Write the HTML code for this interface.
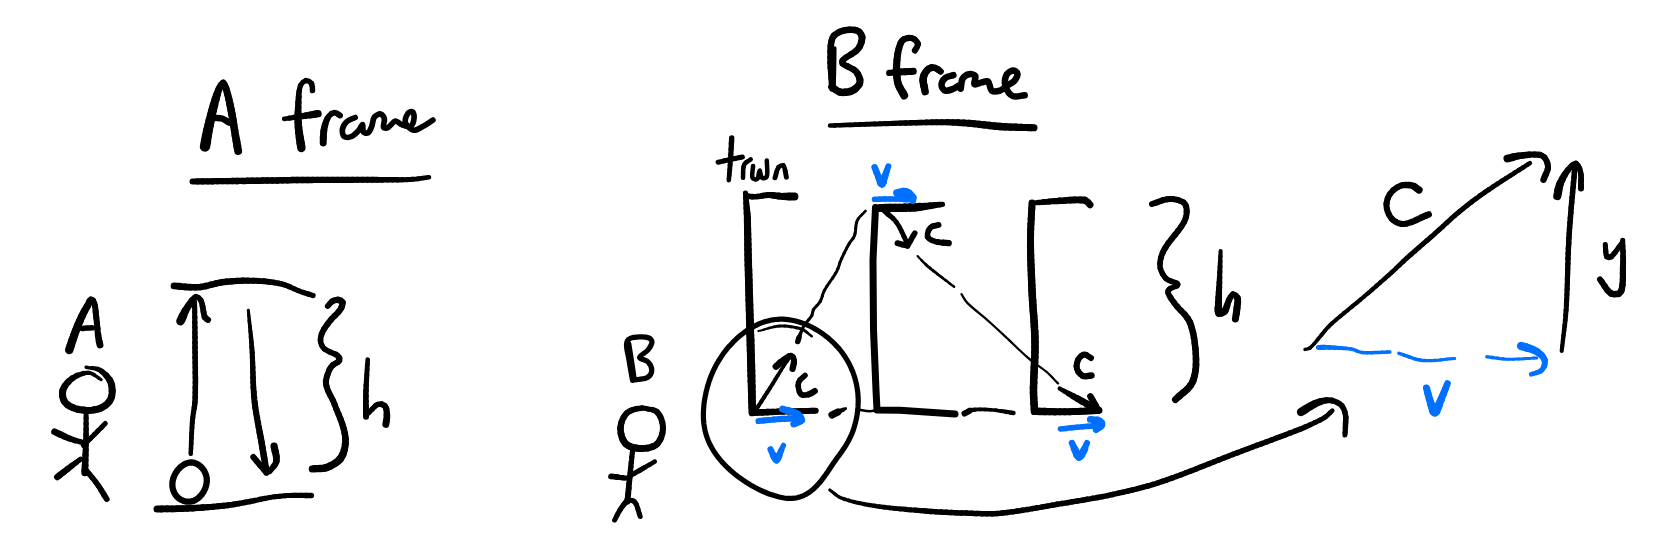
<!DOCTYPE html>
<html><head><meta charset="utf-8"><title>A frame / B frame</title>
<style>
html,body{margin:0;padding:0;background:#fff;width:1661px;height:547px;overflow:hidden;font-family:"Liberation Sans",sans-serif;}
svg{display:block;}
</style></head><body>
<svg width="1661" height="547" viewBox="0 0 1661 547">
<rect width="1661" height="547" fill="#fff"/>
<g fill="none" stroke-linecap="round" stroke-linejoin="round">
<g stroke="#000">
<path d="M205 146.5L205.5 143.9L206 141.2" stroke-width="10.4"/>
<path d="M206 141.2L206.4 138.6L206.9 135.9" stroke-width="10.1"/>
<path d="M206.9 135.9L207.4 133.3L207.9 130.6" stroke-width="9.8"/>
<path d="M207.9 130.6L208.5 128L209.1 125.4" stroke-width="9.5"/>
<path d="M209.1 125.4L209.6 122.9L210.2 120.3" stroke-width="9.3"/>
<path d="M210.2 120.3L210.8 117.7L211.4 115.2" stroke-width="9.1"/>
<path d="M211.4 115.2L212 112.6L212.7 110.1" stroke-width="8.8"/>
<path d="M212.7 110.1L213.3 107.5L214 105" stroke-width="8.6"/>
<path d="M214 105L214.7 102.3L215.5 99.6" stroke-width="8.2"/>
<path d="M215.5 99.6L216.2 96.9L217.1 94.2" stroke-width="7.8"/>
<path d="M217.1 94.2L218 91.6L219 89" stroke-width="7.2"/>
<path d="M219 89L221 85L223.2 83" stroke-width="6.8"/>
<path d="M223.2 83L224.7 84.9L226 88.4" stroke-width="6.7"/>
<path d="M226 88.4L227 92L227.7 94.5" stroke-width="7"/>
<path d="M227.7 94.5L228.3 96.9L228.9 99.4" stroke-width="7.1"/>
<path d="M228.9 99.4L229.5 101.9L230 104.5" stroke-width="7.2"/>
<path d="M230 104.5L230.5 107L231 109.5" stroke-width="7.4"/>
<path d="M231 109.5L231.5 112L232 114.6" stroke-width="7.5"/>
<path d="M232 114.6L232.5 117.2L232.9 119.9" stroke-width="7.5"/>
<path d="M232.9 119.9L233.3 122.5L233.7 125.1" stroke-width="7.5"/>
<path d="M233.7 125.1L234.1 127.7L234.6 130.4" stroke-width="7.5"/>
<path d="M234.6 130.4L235 133L235.4 135.6" stroke-width="7.5"/>
<path d="M235.4 135.6L235.9 138.1L236.4 140.7" stroke-width="7.6"/>
<path d="M236.4 140.7L236.8 143.3L237.3 145.9" stroke-width="7.8"/>
<path d="M237.3 145.9L237.7 148.4L238.2 151" stroke-width="7.9"/>
<path d="M214.9 117.8C217.3 118 219.8 117.8 222 118.5C224.5 119.3 226.7 121.2 229 122.5" stroke-width="6.5"/>
<path d="M312.5 90.5L312.3 86.8L311.5 83.5" stroke-width="5.5"/>
<path d="M311.5 83.5L309 81.3L306 80.5" stroke-width="5.2"/>
<path d="M306 80.5L302.8 82.3L300.5 85.5" stroke-width="5"/>
<path d="M300.5 85.5L299.7 88.2L299.2 91.1" stroke-width="5.2"/>
<path d="M299.2 91.1L298.8 94L298.7 97" stroke-width="5.6"/>
<path d="M298.7 97L298.5 100L298.4 102.5" stroke-width="6"/>
<path d="M298.4 102.5L298.3 105L298.2 107.5" stroke-width="6.3"/>
<path d="M298.2 107.5L298.1 110L298 112.5" stroke-width="6.6"/>
<path d="M298 112.5L298 115L298 117.5" stroke-width="6.9"/>
<path d="M298 117.5L298.1 120L298.2 122.5" stroke-width="7.2"/>
<path d="M298.2 122.5L298.3 125L298.5 127.6" stroke-width="7.5"/>
<path d="M298.5 127.6L298.8 130.1L299.1 132.7" stroke-width="7.7"/>
<path d="M299.1 132.7L299.4 135.2L299.8 137.8" stroke-width="7.9"/>
<path d="M299.8 137.8L300.2 140.3L300.6 142.9" stroke-width="8.2"/>
<path d="M300.6 142.9L301 145.4L301.4 148" stroke-width="8.4"/>
<path d="M284.3 118.9L286.9 118.5L289.5 118.1" stroke-width="4.8"/>
<path d="M289.5 118.1L292.2 117.7L294.8 117.3" stroke-width="5.2"/>
<path d="M294.8 117.3L297.4 116.9L300 116.5" stroke-width="5.8"/>
<path d="M300 116.5L302.6 116.1L305.1 115.7" stroke-width="6.2"/>
<path d="M305.1 115.7L307.7 115.3L310.3 114.9" stroke-width="6.6"/>
<path d="M310.3 114.9L312.9 114.5L315.4 114.1" stroke-width="7.1"/>
<path d="M315.4 114.1L318 113.7" stroke-width="7.4"/>
<path d="M323.2 142.9L323.3 139.9L323.3 137" stroke-width="7"/>
<path d="M323.3 137L323.5 134L323.8 131" stroke-width="6.9"/>
<path d="M323.8 131L324.3 127.9L325 125" stroke-width="6.7"/>
<path d="M325 125L326 121.8L327.3 118.8" stroke-width="6.2"/>
<path d="M327.3 118.8L329 116L331.5 113.7" stroke-width="5.6"/>
<path d="M331.5 113.7L334.5 112.5L337.2 113.6" stroke-width="5.6"/>
<path d="M337.2 113.6L340 115.5" stroke-width="5.9"/>
<path d="M355.2 117.5C352.5 118.8 349.2 119.5 347 121.5C344.9 123.4 342.9 126.5 342.4 129.2C342 131.5 342.7 135.3 344.2 136.5C345.7 137.7 349.4 137.4 351.5 136.5C354.3 135.3 356.7 132.6 358.9 130.2C360.4 128.6 361.8 124.2 362.5 124.5C363.3 124.8 362.3 130.3 363.4 132C364.1 133.1 366.9 133.6 368 132.9C369.7 131.8 370.8 128.8 371.7 126.5C372.9 123.5 372.6 119.4 374.4 117C375.7 115.3 379 113.6 380.8 114C382.4 114.3 384 117.1 384.4 119C384.9 121.6 382.7 125.6 383.5 127.4C383.9 128.4 386.8 128.1 388.1 127.4C390.8 126 392.8 121.5 395.4 121C397.4 120.6 399.5 123.8 401.8 124.7C404.4 125.7 407.8 127.3 410 126.5C411.8 125.9 413.3 122.7 413.7 120.5C414.2 117.9 414 113.6 412.8 112C412.1 111.1 409 111.9 408.2 113C406.5 115.5 404.6 120.1 405.5 122.8C406.5 125.8 410.6 129.5 413.7 130.2C416.4 130.8 419.9 128 422.8 126.5C426.3 124.7 429.5 122.2 432.9 120.1" stroke-width="5.7"/>
<path d="M192.5 181.5L195 181.5L197.5 181.4" stroke-width="6"/>
<path d="M197.5 181.4L200 181.4L202.5 181.4" stroke-width="6.1"/>
<path d="M202.5 181.4L205 181.4L207.5 181.3" stroke-width="6.1"/>
<path d="M207.5 181.3L210 181.3L212.5 181.3" stroke-width="6.2"/>
<path d="M212.5 181.3L215 181.2L217.5 181.2" stroke-width="6.2"/>
<path d="M217.5 181.2L220 181.2L222.5 181.1" stroke-width="6.2"/>
<path d="M222.5 181.1L225 181.1L227.5 181.1" stroke-width="6.3"/>
<path d="M227.5 181.1L230 181.1L232.5 181" stroke-width="6.3"/>
<path d="M232.5 181L235 181L237.5 181" stroke-width="6.4"/>
<path d="M237.5 181L240 180.9L242.5 180.9" stroke-width="6.4"/>
<path d="M242.5 180.9L245 180.9L247.5 180.8" stroke-width="6.5"/>
<path d="M247.5 180.8L250 180.8L252.5 180.8" stroke-width="6.5"/>
<path d="M252.5 180.8L255 180.7L257.5 180.7" stroke-width="6.5"/>
<path d="M257.5 180.7L260 180.7L262.5 180.6" stroke-width="6.5"/>
<path d="M262.5 180.6L265 180.6L267.5 180.5" stroke-width="6.5"/>
<path d="M267.5 180.5L270 180.5L272.5 180.4" stroke-width="6.5"/>
<path d="M272.5 180.4L275 180.4L277.5 180.4" stroke-width="6.5"/>
<path d="M277.5 180.4L280 180.3L282.5 180.3" stroke-width="6.5"/>
<path d="M282.5 180.3L285 180.2L287.5 180.2" stroke-width="6.5"/>
<path d="M287.5 180.2L290 180.2L292.5 180.1" stroke-width="6.5"/>
<path d="M292.5 180.1L295 180.1L297.5 180.1" stroke-width="6.5"/>
<path d="M297.5 180.1L300 180L302.5 180" stroke-width="6.5"/>
<path d="M302.5 180L305 180L307.5 180" stroke-width="6.5"/>
<path d="M307.5 180L310 180L312.5 179.9" stroke-width="6.5"/>
<path d="M312.5 179.9L315 179.9L317.5 179.9" stroke-width="6.4"/>
<path d="M317.5 179.9L320 179.9L322.5 179.9" stroke-width="6.4"/>
<path d="M322.5 179.9L325 179.9L327.5 179.9" stroke-width="6.3"/>
<path d="M327.5 179.9L330 179.9L332.5 179.9" stroke-width="6.3"/>
<path d="M332.5 179.9L335 179.9L337.5 179.9" stroke-width="6.3"/>
<path d="M337.5 179.9L340 179.9L342.5 179.9" stroke-width="6.2"/>
<path d="M342.5 179.9L345 179.9L347.5 179.9" stroke-width="6.2"/>
<path d="M347.5 179.9L350 179.9L352.5 179.9" stroke-width="6.2"/>
<path d="M352.5 179.9L355 179.8L357.5 179.8" stroke-width="6.1"/>
<path d="M357.5 179.8L360 179.8L362.5 179.8" stroke-width="6.1"/>
<path d="M362.5 179.8L365 179.8L367.5 179.8" stroke-width="6"/>
<path d="M367.5 179.8L370 179.8L372.5 179.8" stroke-width="6"/>
<path d="M372.5 179.8L375 179.8L377.5 179.8" stroke-width="5.9"/>
<path d="M377.5 179.8L380 179.8L382.5 179.8" stroke-width="5.8"/>
<path d="M382.5 179.8L385 179.8L387.5 179.8" stroke-width="5.6"/>
<path d="M387.5 179.8L390 179.8L392.5 179.8" stroke-width="5.5"/>
<path d="M392.5 179.8L395 179.8L397.5 179.8" stroke-width="5.4"/>
<path d="M397.5 179.8L400 179.8L402.5 179.7" stroke-width="5.2"/>
<path d="M402.5 179.7L405 179.7L407.5 179.6" stroke-width="5.1"/>
<path d="M407.5 179.6L410 179.5L412.7 179.3" stroke-width="5"/>
<path d="M412.7 179.3L415.4 179.1L418.2 178.8" stroke-width="4.9"/>
<path d="M418.2 178.8L420.9 178.4L423.6 178" stroke-width="4.7"/>
<path d="M423.6 178L426.3 177.6L429 177.3" stroke-width="4.6"/>
<path d="M69.2 350.1L70 347.7L70.8 345.2" stroke-width="8.4"/>
<path d="M70.8 345.2L71.6 342.8L72.4 340.3" stroke-width="8.3"/>
<path d="M72.4 340.3L73.3 337.9L74.1 335.4" stroke-width="8.1"/>
<path d="M74.1 335.4L75 333L75.9 330.5" stroke-width="8"/>
<path d="M75.9 330.5L76.9 328.1L77.8 325.6" stroke-width="7.9"/>
<path d="M77.8 325.6L78.8 323.2L79.9 320.8" stroke-width="7.7"/>
<path d="M79.9 320.8L80.9 318.4L82 316" stroke-width="7.6"/>
<path d="M82 316L83.2 313.6L84.4 311.2" stroke-width="7.4"/>
<path d="M84.4 311.2L85.8 308.8L87.1 306.5" stroke-width="7.2"/>
<path d="M87.1 306.5L88.4 304.1L89.6 301.3" stroke-width="6.9"/>
<path d="M89.6 301.3L91 299.5L92.8 300.5" stroke-width="6.2"/>
<path d="M92.8 300.5L94.2 302.8L94.9 305.7" stroke-width="6"/>
<path d="M94.9 305.7L95.4 308.8L95.7 311.9" stroke-width="6"/>
<path d="M95.7 311.9L96 315L96.3 317.7" stroke-width="6"/>
<path d="M96.3 317.7L96.6 320.4L96.9 323" stroke-width="6"/>
<path d="M96.9 323L97.1 325.7L97.4 328.4" stroke-width="6"/>
<path d="M97.4 328.4L97.7 331.6L98.1 334.8" stroke-width="6.2"/>
<path d="M98.1 334.8L98.5 338L99.2 341.5" stroke-width="6.5"/>
<path d="M99.2 341.5L100 345" stroke-width="6.9"/>
<path d="M82 328.4C83.7 328.3 85.3 328.1 87 328C88.7 327.9 90.5 327.9 92.2 327.8" stroke-width="5.5"/>
<path d="M86.1 367.3L88.9 367.7L91.8 368" stroke-width="3.4"/>
<path d="M91.8 368L94.7 368.4L97.4 369" stroke-width="4.2"/>
<path d="M97.4 369L99.8 370.1L102 371.6" stroke-width="5"/>
<path d="M102 371.6L104.2 373.4L106.3 375.5" stroke-width="5.7"/>
<path d="M106.3 375.5L108.1 377.7L109.7 380" stroke-width="6.3"/>
<path d="M109.7 380L110.8 382.4L111.6 385" stroke-width="6.9"/>
<path d="M111.6 385L112 387.8L112.2 390.7" stroke-width="7"/>
<path d="M112.2 390.7L112.1 393.6L111.6 396.4" stroke-width="7"/>
<path d="M111.6 396.4L110.8 398.9L109.4 401.3" stroke-width="7"/>
<path d="M109.4 401.3L107.4 403.6L105.1 405.6" stroke-width="7"/>
<path d="M105.1 405.6L102.4 407.3L99.8 408.5" stroke-width="7"/>
<path d="M99.8 408.5L97.3 409.3L94.6 409.8" stroke-width="7"/>
<path d="M94.6 409.8L91.8 410.2L88.9 410.4" stroke-width="7"/>
<path d="M88.9 410.4L86.1 410.3L83.3 410.1" stroke-width="7"/>
<path d="M83.3 410.1L80.6 409.8L77.9 409.3" stroke-width="7"/>
<path d="M77.9 409.3L75.1 408.5L72.4 407.4" stroke-width="7"/>
<path d="M72.4 407.4L69.8 406.2L67.5 404.7" stroke-width="7"/>
<path d="M67.5 404.7L65.6 403L64.2 401" stroke-width="7"/>
<path d="M64.2 401L63.2 398.5L62.6 395.8" stroke-width="7"/>
<path d="M62.6 395.8L62.5 393L62.8 390.6" stroke-width="7"/>
<path d="M62.8 390.6L63.7 388.3L64.9 386" stroke-width="6.8"/>
<path d="M64.9 386L66.5 383.8L68.4 381.7" stroke-width="6.5"/>
<path d="M68.4 381.7L70.3 379.9L72.4 378.3" stroke-width="6.2"/>
<path d="M72.4 378.3L74.8 376.8L77.5 375.4" stroke-width="5.7"/>
<path d="M77.5 375.4L80.4 374.3L83.3 373.4" stroke-width="5"/>
<path d="M83.3 373.4L86.2 372.9L88.9 372.8" stroke-width="4.3"/>
<path d="M88.9 372.8L91.4 373.4L93.9 374.7" stroke-width="3.8"/>
<path d="M93.9 374.7L96.3 376.3L98.8 378.1" stroke-width="3.4"/>
<path d="M98.8 378.1L101.2 379.7" stroke-width="3.1"/>
<path d="M86.1 412.6L86.1 415.3L86.1 418.1" stroke-width="5"/>
<path d="M86.1 418.1L86.1 420.8L86.1 423.6" stroke-width="5.1"/>
<path d="M86.1 423.6L86.1 426.3L86.1 429" stroke-width="5.2"/>
<path d="M86.1 429L86.1 431.8L86.1 434.5" stroke-width="5.4"/>
<path d="M86.1 434.5L86 437.3L86 440" stroke-width="5.5"/>
<path d="M86 440L85.9 442.5L85.9 445.1" stroke-width="5.6"/>
<path d="M85.9 445.1L85.8 447.6L85.7 450.1" stroke-width="5.8"/>
<path d="M85.7 450.1L85.6 452.7L85.5 455.2" stroke-width="6.1"/>
<path d="M85.5 455.2L85.4 457.7L85.3 460.2" stroke-width="6.3"/>
<path d="M85.3 460.2L85.2 462.8L85.1 465.3" stroke-width="6.5"/>
<path d="M85.1 465.3L85 467.8L84.9 470.4" stroke-width="6.8"/>
<path d="M84.9 470.4L84.8 472.9" stroke-width="6.9"/>
<path d="M54.6 431.8L57.1 433L59.6 434.1" stroke-width="6.8"/>
<path d="M59.6 434.1L62.1 435.3L64.6 436.5" stroke-width="6.5"/>
<path d="M64.6 436.5L67.1 437.6L69.7 438.6" stroke-width="6.2"/>
<path d="M69.7 438.6L72.4 439.5L75.1 440.4" stroke-width="5.8"/>
<path d="M75.1 440.4L77.9 441.2L80.6 441.9" stroke-width="5.4"/>
<path d="M80.6 441.9L83.4 442.7" stroke-width="5.1"/>
<path d="M83.4 445.5L85.2 443.7L87.1 441.8" stroke-width="5"/>
<path d="M87.1 441.8L88.9 440L90.7 438.2" stroke-width="5"/>
<path d="M90.7 438.2L92.6 436.3L94.4 434.5" stroke-width="5"/>
<path d="M94.4 434.5L96.2 432.7L98 430.8" stroke-width="5"/>
<path d="M98 430.8L99.9 429L101.7 427.2" stroke-width="5"/>
<path d="M101.7 427.2L103.5 425.3L105.3 423.5" stroke-width="5"/>
<path d="M80.6 459.2L78.4 460.8L76.2 462.5" stroke-width="5.2"/>
<path d="M76.2 462.5L74.1 464.1L71.9 465.7" stroke-width="5.6"/>
<path d="M71.9 465.7L69.7 467.4L67.6 469" stroke-width="6"/>
<path d="M67.6 469L65.6 470.6L63.5 472.2" stroke-width="6.2"/>
<path d="M63.5 472.2L61.4 473.8L59.4 475.4" stroke-width="6.3"/>
<path d="M59.4 475.4L57.3 477" stroke-width="6.5"/>
<path d="M86.1 470.2L87.7 472.1L89.3 474.1" stroke-width="5.5"/>
<path d="M89.3 474.1L90.9 476L92.5 477.9" stroke-width="5.5"/>
<path d="M92.5 477.9L94.1 479.9L95.6 481.9" stroke-width="5.5"/>
<path d="M95.6 481.9L97.1 483.9L98.6 486" stroke-width="5.5"/>
<path d="M98.6 486L100 488.1L101.3 490.3" stroke-width="5.6"/>
<path d="M101.3 490.3L102.7 492.5L104 494.7" stroke-width="5.8"/>
<path d="M104 494.7L105.3 496.8L106.7 499" stroke-width="5.9"/>
<path d="M174.1 285.9L176.8 286.1L179.5 286.3" stroke-width="6.9"/>
<path d="M179.5 286.3L182.2 286.6L184.9 286.8" stroke-width="6.8"/>
<path d="M184.9 286.8L187.6 287.1L190.3 287.2" stroke-width="6.7"/>
<path d="M190.3 287.2L193 287.3L195.7 287.3" stroke-width="6.6"/>
<path d="M195.7 287.3L198.4 287.2L201 286.9" stroke-width="6.5"/>
<path d="M201 286.9L203.5 286.5L206.1 286" stroke-width="6.5"/>
<path d="M206.1 286L208.6 285.4L211.2 284.7" stroke-width="6.5"/>
<path d="M211.2 284.7L213.7 284.1L216.3 283.4" stroke-width="6.5"/>
<path d="M216.3 283.4L218.9 282.8L221.4 282.4" stroke-width="6.5"/>
<path d="M221.4 282.4L224 282L226.6 281.7" stroke-width="6.5"/>
<path d="M226.6 281.7L229.3 281.5L232 281.3" stroke-width="6.4"/>
<path d="M232 281.3L234.6 281.1L237.3 280.9" stroke-width="6.3"/>
<path d="M237.3 280.9L240 280.8L242.7 280.7" stroke-width="6.2"/>
<path d="M242.7 280.7L245.3 280.7L248 280.7" stroke-width="6.2"/>
<path d="M248 280.7L250.7 280.7L253.3 280.7" stroke-width="6.1"/>
<path d="M253.3 280.7L256 280.8L258.6 280.9" stroke-width="6"/>
<path d="M258.6 280.9L261.2 281.1L263.7 281.2" stroke-width="5.9"/>
<path d="M263.7 281.2L266.3 281.5L268.9 281.8" stroke-width="5.8"/>
<path d="M268.9 281.8L271.5 282.1L274 282.5" stroke-width="5.7"/>
<path d="M274 282.5L276.6 282.9L279.1 283.4" stroke-width="5.6"/>
<path d="M279.1 283.4L281.6 284L284.1 284.7" stroke-width="5.5"/>
<path d="M284.1 284.7L286.5 285.5L288.9 286.5" stroke-width="5.4"/>
<path d="M288.9 286.5L291.3 287.5L293.6 288.6" stroke-width="5.2"/>
<path d="M293.6 288.6L296 289.6L298.4 290.7" stroke-width="5.1"/>
<path d="M298.4 290.7L300.8 291.6L303.2 292.4" stroke-width="5.1"/>
<path d="M303.2 292.4L305.7 293.2L308.1 294" stroke-width="5.2"/>
<path d="M308.1 294L310.6 294.7L313 295.5" stroke-width="5.4"/>
<path d="M190.7 453.8L190.8 451.2L191 448.6" stroke-width="4.5"/>
<path d="M191 448.6L191.1 446L191.2 443.4" stroke-width="4.6"/>
<path d="M191.2 443.4L191.3 440.8L191.4 438.2" stroke-width="4.7"/>
<path d="M191.4 438.2L191.5 435.6L191.7 433" stroke-width="4.8"/>
<path d="M191.7 433L191.8 430.4L192 427.8" stroke-width="4.8"/>
<path d="M192 427.8L192.1 425.2L192.3 422.6" stroke-width="4.9"/>
<path d="M192.3 422.6L192.5 420L192.8 417.5" stroke-width="5"/>
<path d="M192.8 417.5L193.1 415L193.5 412.5" stroke-width="5.1"/>
<path d="M193.5 412.5L193.9 410L194.3 407.5" stroke-width="5.2"/>
<path d="M194.3 407.5L194.7 405L194.9 402.5" stroke-width="5.4"/>
<path d="M194.9 402.5L195.1 400L195.2 397.5" stroke-width="5.5"/>
<path d="M195.2 397.5L195.2 395L195.3 392.5" stroke-width="5.5"/>
<path d="M195.3 392.5L195.3 390L195.3 387.5" stroke-width="5.5"/>
<path d="M195.3 387.5L195.4 385L195.4 382.5" stroke-width="5.5"/>
<path d="M195.4 382.5L195.4 380L195.4 377.5" stroke-width="5.5"/>
<path d="M195.4 377.5L195.3 375L195.3 372.5" stroke-width="5.5"/>
<path d="M195.3 372.5L195.3 370L195.3 367.5" stroke-width="5.5"/>
<path d="M195.3 367.5L195.2 365L195.2 362.5" stroke-width="5.5"/>
<path d="M195.2 362.5L195.2 360L195.1 357.5" stroke-width="5.5"/>
<path d="M195.1 357.5L195.1 355L195.1 352.5" stroke-width="5.5"/>
<path d="M195.1 352.5L195 350L195 347.5" stroke-width="5.5"/>
<path d="M195 347.5L195 345L195 342.5" stroke-width="5.5"/>
<path d="M195 342.5L195 339.9L195 337.4" stroke-width="5.4"/>
<path d="M195 337.4L194.9 334.9L194.9 332.4" stroke-width="5.4"/>
<path d="M194.9 332.4L194.9 329.8L194.9 327.3" stroke-width="5.3"/>
<path d="M194.9 327.3L194.8 324.8L194.8 322.2" stroke-width="5.3"/>
<path d="M194.8 322.2L194.8 319.7L194.8 317.2" stroke-width="5.2"/>
<path d="M194.8 317.2L194.7 314.6L194.7 312.1" stroke-width="5.1"/>
<path d="M194.7 312.1L194.7 309.6L194.6 307.1" stroke-width="5.1"/>
<path d="M194.6 307.1L194.6 304.5L194.6 302" stroke-width="5"/>
<path d="M180.5 321.1L181.8 318.5L183 315.8" stroke-width="8.6"/>
<path d="M183 315.8L184.2 313.1L185.5 310.5" stroke-width="7.8"/>
<path d="M185.5 310.5L187 308L188.6 305.5" stroke-width="7"/>
<path d="M188.6 305.5L190.3 302.8L192 300.3" stroke-width="6.4"/>
<path d="M192 300.3L193.9 298.2L195.8 296.8" stroke-width="5.8"/>
<path d="M195.8 296.8L198.6 297.7L201 300.6" stroke-width="5.5"/>
<path d="M201 300.6L201.9 303.2L202.5 306" stroke-width="5.6"/>
<path d="M202.5 306L203 308.8L203.5 311.7" stroke-width="5.8"/>
<path d="M203.5 311.7L204 314.5L204.8 317.2" stroke-width="5.9"/>
<path d="M204.8 317.2L206.2 318.6L208 319.8" stroke-width="6.2"/>
<path d="M248.3 310.2L248.6 312.9L248.8 315.5" stroke-width="3.1"/>
<path d="M248.8 315.5L249.1 318.2L249.3 320.8" stroke-width="3.4"/>
<path d="M249.3 320.8L249.6 323.5L249.9 326.1" stroke-width="3.7"/>
<path d="M249.9 326.1L250.1 328.8L250.4 331.4" stroke-width="3.9"/>
<path d="M250.4 331.4L250.7 334.1L250.9 336.7" stroke-width="4.2"/>
<path d="M250.9 336.7L251.2 339.4L251.4 342" stroke-width="4.5"/>
<path d="M251.4 342L251.6 344.7L251.8 347.3" stroke-width="4.7"/>
<path d="M251.8 347.3L252 350L252.2 352.5" stroke-width="5"/>
<path d="M252.2 352.5L252.3 355L252.4 357.5" stroke-width="5.1"/>
<path d="M252.4 357.5L252.5 360L252.6 362.5" stroke-width="5.2"/>
<path d="M252.6 362.5L252.7 365L252.8 367.5" stroke-width="5.3"/>
<path d="M252.8 367.5L252.8 370L252.9 372.5" stroke-width="5.4"/>
<path d="M252.9 372.5L253 375L253 377.5" stroke-width="5.5"/>
<path d="M253 377.5L253.1 380L253.2 382.5" stroke-width="5.6"/>
<path d="M253.2 382.5L253.3 385L253.4 387.5" stroke-width="5.7"/>
<path d="M253.4 387.5L253.6 390L253.8 392.5" stroke-width="5.8"/>
<path d="M253.8 392.5L253.9 395L254.2 397.5" stroke-width="5.9"/>
<path d="M254.2 397.5L254.4 400L254.7 402.5" stroke-width="6"/>
<path d="M254.7 402.5L255 405L255.3 407.5" stroke-width="6.1"/>
<path d="M255.3 407.5L255.7 410L256.1 412.5" stroke-width="6.1"/>
<path d="M256.1 412.5L256.5 415L257 417.5" stroke-width="6.2"/>
<path d="M257 417.5L257.4 420L257.9 422.5" stroke-width="6.2"/>
<path d="M257.9 422.5L258.3 425L258.8 427.5" stroke-width="6.3"/>
<path d="M258.8 427.5L259.3 430L259.7 432.5" stroke-width="6.3"/>
<path d="M259.7 432.5L260.2 435L260.7 437.5" stroke-width="6.4"/>
<path d="M260.7 437.5L261.1 440L261.6 442.5" stroke-width="6.4"/>
<path d="M261.6 442.5L262 445L262.4 447.5" stroke-width="6.5"/>
<path d="M262.4 447.5L262.8 450L263.2 452.5" stroke-width="6.5"/>
<path d="M263.2 452.5L263.6 455L264.1 457.5" stroke-width="6.5"/>
<path d="M264.1 457.5L264.5 459.9L264.9 462.4" stroke-width="6.5"/>
<path d="M264.9 462.4L265.3 464.9L265.7 467.4" stroke-width="6.5"/>
<path d="M265.7 467.4L266.1 469.9L266.5 472.4" stroke-width="6.5"/>
<path d="M253.3 457L255 459L256.6 461" stroke-width="6"/>
<path d="M256.6 461L258.3 463L260 465" stroke-width="6"/>
<path d="M260 465L262.2 467.5L264.3 469.9" stroke-width="6"/>
<path d="M264.3 469.9L266.5 472.4" stroke-width="6"/>
<path d="M274.1 446.1L274.6 448.7L275.2 451.3" stroke-width="7.3"/>
<path d="M275.2 451.3L275.8 453.9L276.3 456.5" stroke-width="7"/>
<path d="M276.3 456.5L276.5 459.1L276.3 461.5" stroke-width="6.7"/>
<path d="M276.3 461.5L275.3 464.1L273.6 466.5" stroke-width="6.2"/>
<path d="M273.6 466.5L271.6 468.9L269.7 471.3" stroke-width="5.8"/>
<path d="M191.9 462.5L192.4 462.5L192.9 462.6L193.4 462.7L193.9 462.8L194.4 462.9L194.9 463.1L195.4 463.3L195.9 463.5L196.4 463.7L196.9 463.9L197.4 464.2L197.9 464.4L198.3 464.7L198.8 465L199.2 465.4L199.7 465.7L200.1 466.1L200.5 466.5L201 466.8L201.4 467.2L201.8 467.7L202.1 468.1L202.5 468.5L202.9 469L203.2 469.5L203.6 469.9L203.9 470.4L204.2 470.9L204.5 471.4L204.7 472L205 472.5L205.3 473L205.5 473.6L205.7 474.1L205.9 474.7L206.1 475.3L206.2 475.8L206.4 476.4L206.5 477L206.6 477.6L206.7 478.2L206.7 478.8L206.8 479.4L206.8 480L206.8 480.6L206.8 481.2L206.7 481.8L206.7 482.4L206.6 483L206.5 483.6L206.4 484.2L206.3 484.8L206.1 485.4L206 486L205.8 486.6L205.6 487.2L205.4 487.8L205.2 488.3L205 488.9L204.7 489.5L204.4 490L204.2 490.6L203.9 491.1L203.6 491.7L203.3 492.2L202.9 492.7L202.6 493.2L202.2 493.7L201.9 494.2L201.5 494.7L201.1 495.2L200.7 495.6L200.3 496.1L199.9 496.5L199.5 496.9L199.1 497.3L198.6 497.7L198.2 498.1L197.7 498.5L197.3 498.8L196.8 499.1L196.3 499.4L195.8 499.7L195.4 500L194.9 500.3L194.4 500.5L193.9 500.7L193.3 500.9L192.8 501.1L192.3 501.2L191.8 501.4L191.3 501.5L190.7 501.6L190.2 501.7L189.7 501.7L189.1 501.7L188.6 501.7L188.1 501.7L187.5 501.7L187 501.7L186.5 501.6L186 501.5L185.4 501.4L184.9 501.3L184.4 501.1L183.9 501L183.4 500.8L182.9 500.6L182.4 500.4L181.9 500.2L181.4 499.9L180.9 499.7L180.4 499.4L180 499.1L179.5 498.8L179.1 498.5L178.6 498.2L178.2 497.8L177.8 497.4L177.4 497.1L177 496.7L176.6 496.2L176.3 495.8L175.9 495.4L175.6 494.9L175.3 494.5L175 494L174.7 493.5L174.4 493L174.2 492.5L173.9 492L173.7 491.4L173.5 490.9L173.3 490.4L173.1 489.8L173 489.2L172.8 488.7L172.7 488.1L172.6 487.5L172.5 486.9L172.5 486.3L172.4 485.7L172.4 485.1L172.4 484.5L172.4 483.9L172.4 483.3L172.4 482.7L172.5 482.1L172.6 481.5L172.7 480.9L172.8 480.3L173 479.7L173.1 479.1L173.3 478.5L173.5 478L173.7 477.4L173.9 476.8L174.1 476.2L174.4 475.6L174.6 475.1L174.9 474.5L175.2 474L175.5 473.4L175.8 472.9L176.1 472.4L176.5 471.9L176.8 471.3L177.2 470.8L177.6 470.3L177.9 469.9L178.3 469.4L178.7 468.9L179.2 468.5L179.6 468.1L180 467.6L180.4 467.2L180.9 466.8L181.3 466.5L181.8 466.1L182.3 465.7L182.7 465.4L183.2 465.1L183.7 464.8L184.2 464.5L184.7 464.2L185.2 464L185.7 463.7L186.2 463.5L186.7 463.3L187.2 463.1L187.7 463L188.2 462.8L188.8 462.7L189.3 462.6L189.8 462.6L190.3 462.5L190.8 462.5L191.4 462.5L191.9 462.5Z" stroke-width="6.3"/>
<path d="M157 509L159.5 509L162.1 508.9" stroke-width="7"/>
<path d="M162.1 508.9L164.6 508.9L167.2 508.8" stroke-width="6.9"/>
<path d="M167.2 508.8L169.7 508.8L172.2 508.8" stroke-width="6.8"/>
<path d="M172.2 508.8L174.8 508.8L177.3 508.7" stroke-width="6.7"/>
<path d="M177.3 508.7L179.9 508.7L182.4 508.6" stroke-width="6.7"/>
<path d="M182.4 508.6L184.9 508.5L187.5 508.4" stroke-width="6.6"/>
<path d="M187.5 508.4L190 508.3L192.6 508.2" stroke-width="6.5"/>
<path d="M192.6 508.2L195.1 508L197.7 507.9" stroke-width="6.4"/>
<path d="M197.7 507.9L200.2 507.7L202.8 507.5" stroke-width="6.4"/>
<path d="M202.8 507.5L205.4 507.4L207.9 507.2" stroke-width="6.3"/>
<path d="M207.9 507.2L210.5 507L213 506.8" stroke-width="6.2"/>
<path d="M213 506.8L215.6 506.5L218.2 506.3" stroke-width="6.1"/>
<path d="M218.2 506.3L220.7 506L223.3 505.8" stroke-width="6.1"/>
<path d="M223.3 505.8L225.8 505.5L228.5 505.2" stroke-width="6"/>
<path d="M228.5 505.2L231.2 504.8L233.9 504.4" stroke-width="5.9"/>
<path d="M233.9 504.4L236.6 503.9L239.3 503.5" stroke-width="5.8"/>
<path d="M239.3 503.5L242 503L244.6 502.5" stroke-width="5.7"/>
<path d="M244.6 502.5L247.3 502L250 501.5" stroke-width="5.6"/>
<path d="M250 501.5L252.5 501L254.9 500.5" stroke-width="5.4"/>
<path d="M254.9 500.5L257.4 500L259.8 499.4" stroke-width="5.3"/>
<path d="M259.8 499.4L262.3 498.9L264.8 498.4" stroke-width="5.2"/>
<path d="M264.8 498.4L267.2 497.9L269.7 497.5" stroke-width="5.1"/>
<path d="M269.7 497.5L272.2 497.1L274.8 496.8" stroke-width="5"/>
<path d="M274.8 496.8L277.3 496.5L279.8 496.2" stroke-width="5"/>
<path d="M279.8 496.2L282.4 496L284.9 495.8" stroke-width="5"/>
<path d="M284.9 495.8L287.5 495.6L290 495.5" stroke-width="5"/>
<path d="M290 495.5L292.7 495.4L295.3 495.4" stroke-width="5.1"/>
<path d="M295.3 495.4L298 495.4L300.7 495.4" stroke-width="5.2"/>
<path d="M300.7 495.4L303.4 495.4L306 495.5" stroke-width="5.3"/>
<path d="M306 495.5L308.7 495.5L311.4 495.5" stroke-width="5.4"/>
<path d="M327.8 306L329.8 303.6L332 301.5" stroke-width="5.8"/>
<path d="M332 301.5L334.9 300.2L338 299.8" stroke-width="6.2"/>
<path d="M338 299.8L340.8 300.7L342.5 302.5" stroke-width="6.5"/>
<path d="M342.5 302.5L342.3 304.9L341.4 307.6" stroke-width="6.3"/>
<path d="M341.4 307.6L340 310L338.4 312" stroke-width="6.1"/>
<path d="M338.4 312L336.7 313.9L334.8 315.7" stroke-width="6"/>
<path d="M334.8 315.7L332.9 317.6L331.2 319.5" stroke-width="6"/>
<path d="M331.2 319.5L329.4 321.7L327.7 323.9" stroke-width="6"/>
<path d="M327.7 323.9L326 326.2L324.4 328.6" stroke-width="6"/>
<path d="M324.4 328.6L323 331L321.7 333.9" stroke-width="5.9"/>
<path d="M321.7 333.9L320.8 336.9L320.5 340" stroke-width="5.7"/>
<path d="M320.5 340L320.8 342.6L321.7 345.2" stroke-width="5.5"/>
<path d="M321.7 345.2L323 347.5L325 349.3" stroke-width="5.5"/>
<path d="M325 349.3L327.5 350.7L330 352" stroke-width="5.5"/>
<path d="M330 352L332.7 353.2L335.5 354.3" stroke-width="5.7"/>
<path d="M335.5 354.3L337.8 355.8L339.3 358.1" stroke-width="5.9"/>
<path d="M339.3 358.1L339.4 360.5L337.7 362.1" stroke-width="6"/>
<path d="M337.7 362.1L335.3 363.5L333 365" stroke-width="6"/>
<path d="M333 365L331 367.1L329.5 369.5" stroke-width="6"/>
<path d="M329.5 369.5L328.4 372.3L327.3 375.2" stroke-width="6"/>
<path d="M327.3 375.2L326.5 378.1L325.9 381" stroke-width="6"/>
<path d="M325.9 381L326 383.8L326.5 386.1" stroke-width="6"/>
<path d="M326.5 386.1L327.2 388.5L328.1 390.8" stroke-width="6"/>
<path d="M328.1 390.8L329.2 393.1L330.3 395.4" stroke-width="6"/>
<path d="M330.3 395.4L331.5 397.6L332.7 399.9" stroke-width="6"/>
<path d="M332.7 399.9L333.8 402.3L334.7 404.6" stroke-width="6"/>
<path d="M334.7 404.6L335.6 407L336.5 409.4" stroke-width="6"/>
<path d="M336.5 409.4L337.5 411.8L338.5 414.1" stroke-width="6.1"/>
<path d="M338.5 414.1L339.4 416.5L340.4 418.9" stroke-width="6.2"/>
<path d="M340.4 418.9L341.3 421.3L342.2 423.8" stroke-width="6.3"/>
<path d="M342.2 423.8L342.9 426.2L343.7 428.6" stroke-width="6.3"/>
<path d="M343.7 428.6L344.3 431L344.8 433.5" stroke-width="6.4"/>
<path d="M344.8 433.5L345.2 435.9L345.4 438.5" stroke-width="6.5"/>
<path d="M345.4 438.5L345.5 441.2L345.3 444" stroke-width="6.8"/>
<path d="M345.3 444L345 446.7L344.4 449.4" stroke-width="7"/>
<path d="M344.4 449.4L343.7 452L342.8 454.4" stroke-width="7.2"/>
<path d="M342.8 454.4L341.7 456.7L340.1 459" stroke-width="7.5"/>
<path d="M340.1 459L338.1 461L335.7 462.9" stroke-width="7.5"/>
<path d="M335.7 462.9L333.1 464.5L330.4 465.9" stroke-width="7.5"/>
<path d="M330.4 465.9L327.8 467.1L325.4 467.9" stroke-width="7.5"/>
<path d="M325.4 467.9L322.8 468.3L320.2 468.5" stroke-width="7.3"/>
<path d="M320.2 468.5L317.5 468.6L314.8 468.7" stroke-width="7.2"/>
<path d="M314.8 468.7L312.2 468.9" stroke-width="7"/>
<path d="M367.7 359.5L367.6 362.1L367.4 364.7" stroke-width="4.6"/>
<path d="M367.4 364.7L367.2 367.3L367.1 369.9" stroke-width="4.8"/>
<path d="M367.1 369.9L366.9 372.5L366.8 375.1" stroke-width="4.9"/>
<path d="M366.8 375.1L366.6 377.7L366.5 380.3" stroke-width="5.1"/>
<path d="M366.5 380.3L366.3 382.9L366.2 385.5" stroke-width="5.2"/>
<path d="M366.2 385.5L366.1 388.1L366 390.7" stroke-width="5.4"/>
<path d="M366 390.7L365.9 393.3L365.9 395.9" stroke-width="5.5"/>
<path d="M365.9 395.9L365.9 398.5L365.9 401.1" stroke-width="5.6"/>
<path d="M365.9 401.1L365.9 403.7L365.9 406.4" stroke-width="5.8"/>
<path d="M365.9 406.4L366 409L366 411.6" stroke-width="5.9"/>
<path d="M366 411.6L366 414.2L366 416.8" stroke-width="6"/>
<path d="M368.6 413L370.4 411.1L372.2 409.1" stroke-width="5.1"/>
<path d="M372.2 409.1L374 407.2L375.8 405.5" stroke-width="5.3"/>
<path d="M375.8 405.5L377.8 404.3L381.6 404.2" stroke-width="5.5"/>
<path d="M381.6 404.2L385 406L386.2 408.5" stroke-width="6"/>
<path d="M386.2 408.5L386.7 411.8L386.9 415" stroke-width="6.3"/>
<path d="M386.9 415L386.8 418.1L386.3 421.3" stroke-width="6.7"/>
<path d="M386.3 421.3L385.8 424.4" stroke-width="6.9"/>
<path d="M834.8 48C834.7 55.3 834.7 62.7 834.5 70C834.4 75.6 834.2 81.3 834 86.9" stroke-width="3.5"/>
<path d="M832.4 88.4L832.2 85.8L832 83.2" stroke-width="6.5"/>
<path d="M832 83.2L831.8 80.7L831.6 78.1" stroke-width="6.5"/>
<path d="M831.6 78.1L831.4 75.5L831.2 72.9" stroke-width="6.5"/>
<path d="M831.2 72.9L831 70.3L830.8 67.7" stroke-width="6.5"/>
<path d="M830.8 67.7L830.7 65.2L830.6 62.6" stroke-width="6.5"/>
<path d="M830.6 62.6L830.6 60L830.6 57.2" stroke-width="6.5"/>
<path d="M830.6 57.2L830.6 54.4L830.6 51.5" stroke-width="6.5"/>
<path d="M830.6 51.5L830.6 48.6L830.8 45.8" stroke-width="6.5"/>
<path d="M830.8 45.8L831.2 43.1L831.7 40.5" stroke-width="6.5"/>
<path d="M831.7 40.5L832.5 38L834 35.6" stroke-width="6.5"/>
<path d="M834 35.6L836.4 33.7L839.2 32.1" stroke-width="6.5"/>
<path d="M839.2 32.1L842 31L844.4 30.4" stroke-width="6.5"/>
<path d="M844.4 30.4L847 30L849.6 29.7" stroke-width="6.5"/>
<path d="M849.6 29.7L852.2 29.7L854.7 30" stroke-width="6.5"/>
<path d="M854.7 30L857 30.5L859.3 32" stroke-width="6.6"/>
<path d="M859.3 32L861.2 34.4L862 37" stroke-width="6.8"/>
<path d="M862 37L861.9 39.4L861.4 41.9" stroke-width="6.9"/>
<path d="M861.4 41.9L860.6 44.5L859.4 46.9" stroke-width="6.7"/>
<path d="M859.4 46.9L858 49L856.1 50.9" stroke-width="6.5"/>
<path d="M856.1 50.9L853.8 52.6L851.2 54.3" stroke-width="6.4"/>
<path d="M851.2 54.3L848.6 55.9L846.2 57.4" stroke-width="6.2"/>
<path d="M846.2 57.4L844.1 59L842.6 60.5" stroke-width="6.1"/>
<path d="M842.6 60.5L842 62L842.7 63.6" stroke-width="6"/>
<path d="M842.7 63.6L844.6 65L847.5 66.4" stroke-width="6.2"/>
<path d="M847.5 66.4L850.6 67.9L853.5 69.5" stroke-width="6.3"/>
<path d="M853.5 69.5L855.8 71.3L857.6 73.7" stroke-width="6.5"/>
<path d="M857.6 73.7L859 76.6L859.9 79.5" stroke-width="6.8"/>
<path d="M859.9 79.5L860 82.2L859.1 84.6" stroke-width="7"/>
<path d="M859.1 84.6L857.3 86.9L855 89" stroke-width="7.2"/>
<path d="M855 89L852.6 90.5L850.3 91.4" stroke-width="7.5"/>
<path d="M850.3 91.4L847.8 92L845.2 92.3" stroke-width="7.5"/>
<path d="M845.2 92.3L842.6 92.4L840.2 92.1" stroke-width="7.5"/>
<path d="M840.2 92.1L837.3 90.9L834.5 88.9" stroke-width="7.3"/>
<path d="M834.5 88.9L831.7 86.9" stroke-width="7.1"/>
<path d="M914.8 50.5L917 47.1L918 44" stroke-width="6"/>
<path d="M918 44L916.7 41.5L914.3 39.3" stroke-width="6"/>
<path d="M914.3 39.3L911.7 38L909.2 37.9" stroke-width="6"/>
<path d="M909.2 37.9L906.4 38.4L903.8 39.4" stroke-width="6.2"/>
<path d="M903.8 39.4L902 41L900.7 43.2" stroke-width="6.5"/>
<path d="M900.7 43.2L899.7 45.8L898.9 48.5" stroke-width="6.6"/>
<path d="M898.9 48.5L898.2 51.3L897.7 54.3" stroke-width="6.8"/>
<path d="M897.7 54.3L897.3 57.2L897 60" stroke-width="6.9"/>
<path d="M897 60L896.8 62.8L896.6 65.5" stroke-width="7.1"/>
<path d="M896.6 65.5L896.5 68.4L896.5 71.2" stroke-width="7.2"/>
<path d="M896.5 71.2L896.6 74L896.9 76.8" stroke-width="7.3"/>
<path d="M896.9 76.8L897.2 79.5L897.7 82.2" stroke-width="7.4"/>
<path d="M897.7 82.2L898.5 85L899.8 87.6" stroke-width="7.6"/>
<path d="M899.8 87.6L901.3 90.3L902.8 92.9" stroke-width="7.8"/>
<path d="M902.8 92.9L904.2 95.5" stroke-width="8"/>
<path d="M889.2 72.9L891.9 72.7L894.6 72.4" stroke-width="6.2"/>
<path d="M894.6 72.4L897.3 72.2L900 72" stroke-width="6.8"/>
<path d="M900 72L902.7 71.8L905.3 71.7" stroke-width="7"/>
<path d="M905.3 71.7L908 71.6L910.6 71.4" stroke-width="7"/>
<path d="M910.6 71.4L913.3 71.3" stroke-width="7"/>
<path d="M925.1 91.6L924.6 88.8L924 86" stroke-width="7.5"/>
<path d="M924 86L923.4 83.3L923.1 80.5" stroke-width="7.5"/>
<path d="M923.1 80.5L923.2 77.9L923.9 75.4" stroke-width="7.5"/>
<path d="M923.9 75.4L925.2 72.8L926.9 70.6" stroke-width="7.2"/>
<path d="M926.9 70.6L928.7 68.7L931.7 67.6" stroke-width="7"/>
<path d="M931.7 67.6L935.1 67.8L937.9 69.4" stroke-width="6.6"/>
<path d="M937.9 69.4L940.6 71.5" stroke-width="6.5"/>
<path d="M953.4 75.1C950.7 76 947.2 76.2 945.2 77.9C943.3 79.5 941.5 82.8 941.5 85.2C941.5 87.1 943.5 90.1 945.2 90.6C947.4 91.3 950.8 89.8 953.4 88.8C955.7 88 958.2 85.2 959.8 85.2C960.6 85.2 960.5 89.4 960.7 88.8C961.4 87.2 961 81.5 962.5 78.8C963.7 76.7 966.6 74.7 968.9 74.2C970.9 73.8 974.5 74.5 975.3 76C976.3 77.9 973.3 83.2 974.4 84.3C975.4 85.3 979.2 82.9 981.7 82.4C983.8 82 986.8 80.4 988.1 81.5C990.1 83.1 989.6 88.9 991.8 90.6C993.6 92 997.5 91.4 1000 90.6C1002.4 89.9 1004.2 87.6 1006.4 86.1C1009.1 84.2 1012.6 83 1014.6 80.6C1016.2 78.7 1017.8 75.3 1017.4 73.3C1017.2 71.9 1014.3 70.3 1012.8 70.5C1010.6 70.9 1007.4 72.9 1006.4 75.1C1005 78.1 1004.5 82.8 1005.5 86.1C1006.6 89.8 1009.5 94.6 1012.8 96.1C1015.9 97.6 1020.7 95.5 1024.7 95.2" stroke-width="6.5"/>
<path d="M830 125.6L832.5 125.5L835 125.4" stroke-width="4.5"/>
<path d="M835 125.4L837.5 125.3L840 125.2" stroke-width="4.6"/>
<path d="M840 125.2L842.5 125.1L845 125" stroke-width="4.6"/>
<path d="M845 125L847.5 124.9L850 124.9" stroke-width="4.7"/>
<path d="M850 124.9L852.5 124.8L855 124.7" stroke-width="4.7"/>
<path d="M855 124.7L857.5 124.6L860 124.5" stroke-width="4.8"/>
<path d="M860 124.5L862.5 124.4L865 124.3" stroke-width="4.8"/>
<path d="M865 124.3L867.5 124.2L870 124.1" stroke-width="4.9"/>
<path d="M870 124.1L872.5 124L875 124" stroke-width="4.9"/>
<path d="M875 124L877.5 123.9L880 123.8" stroke-width="5"/>
<path d="M880 123.8L882.6 123.7L885.2 123.6" stroke-width="5"/>
<path d="M885.2 123.6L887.7 123.6L890.3 123.5" stroke-width="5.1"/>
<path d="M890.3 123.5L892.9 123.4L895.5 123.3" stroke-width="5.2"/>
<path d="M895.5 123.3L898.1 123.2L900.7 123.1" stroke-width="5.3"/>
<path d="M900.7 123.1L903.2 123L905.8 123" stroke-width="5.4"/>
<path d="M905.8 123L908.4 122.9L911 122.8" stroke-width="5.5"/>
<path d="M911 122.8L913.6 122.7L916.2 122.7" stroke-width="5.5"/>
<path d="M916.2 122.7L918.8 122.6L921.3 122.5" stroke-width="5.6"/>
<path d="M921.3 122.5L923.9 122.5L926.5 122.4" stroke-width="5.7"/>
<path d="M926.5 122.4L929.1 122.4L931.7 122.3" stroke-width="5.8"/>
<path d="M931.7 122.3L934.3 122.3L936.8 122.2" stroke-width="5.9"/>
<path d="M936.8 122.2L939.4 122.2L942 122.2" stroke-width="6"/>
<path d="M942 122.2L944.7 122.2L947.4 122.2" stroke-width="6.1"/>
<path d="M947.4 122.2L950.1 122.3L952.8 122.4" stroke-width="6.3"/>
<path d="M952.8 122.4L955.5 122.5L958.2 122.6" stroke-width="6.5"/>
<path d="M958.2 122.6L960.9 122.8L963.6 122.9" stroke-width="6.7"/>
<path d="M963.6 122.9L966.3 123.1L969 123.3" stroke-width="6.9"/>
<path d="M969 123.3L971.6 123.5L974.2 123.8" stroke-width="7"/>
<path d="M974.2 123.8L976.8 124L979.3 124.3" stroke-width="7.1"/>
<path d="M979.3 124.3L981.9 124.6L984.5 124.9" stroke-width="7.2"/>
<path d="M984.5 124.9L987.1 125.2L989.7 125.5" stroke-width="7.3"/>
<path d="M989.7 125.5L992.2 125.8L994.8 126.1" stroke-width="7.4"/>
<path d="M994.8 126.1L997.4 126.3L1000 126.5" stroke-width="7.5"/>
<path d="M1000 126.5L1002.6 126.7L1005.2 126.8" stroke-width="7.5"/>
<path d="M1005.2 126.8L1007.8 126.9L1010.5 127.1" stroke-width="7.4"/>
<path d="M1010.5 127.1L1013.1 127.2L1015.7 127.2" stroke-width="7.3"/>
<path d="M1015.7 127.2L1018.3 127.3L1020.9 127.4" stroke-width="7.2"/>
<path d="M1020.9 127.4L1023.5 127.5L1026.2 127.5" stroke-width="7.2"/>
<path d="M1026.2 127.5L1028.8 127.6L1031.4 127.7" stroke-width="7.1"/>
<path d="M1031.4 127.7L1034 127.8" stroke-width="7"/>
<path d="M731.7 138L731.6 140.8L731.4 143.5" stroke-width="5.4"/>
<path d="M731.4 143.5L731.3 146.3L731.1 149" stroke-width="5.3"/>
<path d="M731.1 149L731 151.8L730.8 154.5" stroke-width="5.2"/>
<path d="M730.8 154.5L730.7 157.3L730.5 160" stroke-width="5.1"/>
<path d="M730.5 160L730.3 162.5L730.1 165" stroke-width="4.9"/>
<path d="M730.1 165L729.9 167.5L729.7 170.1" stroke-width="4.8"/>
<path d="M729.7 170.1L729.5 172.6L729.2 175.1" stroke-width="4.7"/>
<path d="M729.2 175.1L729 177.6L728.8 180.1" stroke-width="4.6"/>
<path d="M718.1 162.3L721.1 161.6L724 160.9" stroke-width="5"/>
<path d="M724 160.9L727 160.2L730 159.5" stroke-width="5"/>
<path d="M730 159.5L732.5 159L735 158.5" stroke-width="5"/>
<path d="M735 158.5L737.4 158L739.9 157.5" stroke-width="5"/>
<path d="M739.9 157.5L742.4 157" stroke-width="5"/>
<path d="M743 177.8L743.1 175.1L743.1 172.4" stroke-width="4.5"/>
<path d="M743.1 172.4L743.2 169.7L743.5 167.1" stroke-width="4.5"/>
<path d="M743.5 167.1L744.2 164.7L745.8 162.6" stroke-width="4.5"/>
<path d="M745.8 162.6L748.3 161L750.7 159.3" stroke-width="4.5"/>
<path d="M753.1 165.9C752.9 169.9 751.5 174.7 752.5 177.8C752.9 179.1 756.4 179.9 757.3 179C758.8 177.5 758.8 170.8 759.6 170.6C760.3 170.4 760.5 176.6 762 177.8C762.9 178.6 766.4 178 766.8 176.6C768 172.2 766.8 165.9 766.8 160.5" stroke-width="4.5"/>
<path d="M775 177.8L775.8 175L776.5 172.2" stroke-width="4.9"/>
<path d="M776.5 172.2L777.4 169.5L778.6 167.1" stroke-width="4.6"/>
<path d="M778.6 167.1L781 165.5L783.4 165.5" stroke-width="4.5"/>
<path d="M783.4 165.5L784.5 167.8L785.2 170.8" stroke-width="4.6"/>
<path d="M785.2 170.8L785.8 174.1L786.4 177.2" stroke-width="4.9"/>
<path d="M629.3 343.2C630.2 348.8 631.1 354.4 632 360C632.9 366.1 633.8 372.1 634.7 378.2" stroke-width="4"/>
<path d="M632.5 380.4C631.3 373.6 630.1 366.8 629 360C628.1 354.7 626.3 349.1 626.5 344C626.6 341.9 628.2 339.4 630 338.5C632.8 337 636.8 336.9 640.2 336.8C643.1 336.7 646.5 336.9 649 338C650.4 338.6 652.1 340.6 652 342C651.8 344.6 649.8 347.7 648 350C645.7 352.9 639.5 355.3 639.5 357.4C639.5 359.2 645.9 359.6 647.9 361.8C650 364 651.9 367.8 651.8 370.6C651.7 373 649.6 376.1 647.5 377.5C645 379.1 641.2 379 638 379.5C636.2 379.8 634.3 379.8 632.5 380" stroke-width="5.2"/>
<path d="M642 408L644.6 408.5L647.4 408.9" stroke-width="4.3"/>
<path d="M647.4 408.9L650.1 409.3L652.7 409.8" stroke-width="5"/>
<path d="M652.7 409.8L655.1 410.7L657 412" stroke-width="5.7"/>
<path d="M657 412L658.7 414L660.2 416.5" stroke-width="6"/>
<path d="M660.2 416.5L661.4 419.3L662.3 422.3" stroke-width="6"/>
<path d="M662.3 422.3L662.8 425.2L663 428" stroke-width="6"/>
<path d="M663 428L662.8 430.8L662.3 433.7" stroke-width="6.1"/>
<path d="M662.3 433.7L661.4 436.7L660.2 439.5" stroke-width="6.2"/>
<path d="M660.2 439.5L658.7 441.9L657 444" stroke-width="6.4"/>
<path d="M657 444L655.1 445.5L652.7 446.6" stroke-width="6.6"/>
<path d="M652.7 446.6L650.1 447.5L647.4 448.1" stroke-width="6.8"/>
<path d="M647.4 448.1L644.6 448.4L642 448.5" stroke-width="6.9"/>
<path d="M642 448.5L639.2 448.4L636.3 448.1" stroke-width="7"/>
<path d="M636.3 448.1L633.3 447.5L630.5 446.7" stroke-width="7"/>
<path d="M630.5 446.7L628 445.5L626 444" stroke-width="7"/>
<path d="M626 444L624.3 442L622.9 439.5" stroke-width="6.9"/>
<path d="M622.9 439.5L621.8 436.7L621 433.7" stroke-width="6.8"/>
<path d="M621 433.7L620.6 430.8L620.5 428" stroke-width="6.6"/>
<path d="M620.5 428L620.8 425.4L621.4 422.6" stroke-width="6.4"/>
<path d="M621.4 422.6L622.4 419.9L623.7 417.3" stroke-width="6.2"/>
<path d="M623.7 417.3L625.3 414.9L627 413" stroke-width="6.1"/>
<path d="M627 413L629 411.5L631.3 410.4" stroke-width="5.9"/>
<path d="M631.3 410.4L633.9 409.5L636.6 408.8" stroke-width="5.8"/>
<path d="M636.6 408.8L639.4 408.4L642 408" stroke-width="5.6"/>
<path d="M642 408L645 408.2L648 409.1" stroke-width="5"/>
<path d="M648 409.1L651 410" stroke-width="4.2"/>
<path d="M632.9 447L632.6 449.5L632.4 452.1" stroke-width="5"/>
<path d="M632.4 452.1L632.1 454.6L631.8 457.2" stroke-width="5.1"/>
<path d="M631.8 457.2L631.6 459.7L631.3 462.3" stroke-width="5.2"/>
<path d="M631.3 462.3L631 464.8L630.8 467.4" stroke-width="5.3"/>
<path d="M630.8 467.4L630.5 469.9L630.3 472.5" stroke-width="5.4"/>
<path d="M630.3 472.5L630 475L629.7 477.7" stroke-width="5.5"/>
<path d="M629.7 477.7L629.5 480.4L629.2 483" stroke-width="5.6"/>
<path d="M629.2 483L628.9 485.7L628.7 488.4" stroke-width="5.7"/>
<path d="M628.7 488.4L628.4 491.1L628.2 493.8" stroke-width="5.8"/>
<path d="M628.2 493.8L627.9 496.4L627.7 499.1" stroke-width="5.9"/>
<path d="M627.7 499.1L627.4 501.8" stroke-width="6"/>
<path d="M611 476.3L613.9 476.7L616.8 477" stroke-width="5.8"/>
<path d="M616.8 477L619.8 477.4L622.7 477.7" stroke-width="5.4"/>
<path d="M622.7 477.7L625.6 478.1" stroke-width="5.1"/>
<path d="M629.3 476.3L631.8 474.8L634.4 473.4" stroke-width="5"/>
<path d="M634.4 473.4L636.9 471.9L639.5 470.5" stroke-width="5"/>
<path d="M639.5 470.5L642 469L644.6 467.5" stroke-width="5"/>
<path d="M644.6 467.5L647.1 466L649.7 464.6" stroke-width="4.8"/>
<path d="M649.7 464.6L652.2 463.1L654.8 461.6" stroke-width="4.6"/>
<path d="M627.4 500L625.5 502.5L623.6 504.9" stroke-width="5.4"/>
<path d="M623.6 504.9L621.7 507.4L620 510" stroke-width="5.1"/>
<path d="M620 510L618.5 512.5L617.2 515" stroke-width="5"/>
<path d="M617.2 515L615.9 517.6L614.6 520.1" stroke-width="5"/>
<path d="M627.4 500L630.1 500.3L632.7 500.7" stroke-width="5"/>
<path d="M632.7 500.7L634.7 501.8L636 503.8" stroke-width="5"/>
<path d="M636 503.8L637 506.2L637.8 508.7" stroke-width="5"/>
<path d="M637.8 508.7L638.6 511.3L639.4 514" stroke-width="5"/>
<path d="M639.4 514L640.2 516.5" stroke-width="5"/>
<path d="M794.5 196.5L791.8 196.5L789.1 196.5" stroke-width="7.8"/>
<path d="M789.1 196.5L786.4 196.5L783.7 196.4" stroke-width="7.4"/>
<path d="M783.7 196.4L781 196.3L778.5 196.1" stroke-width="7"/>
<path d="M778.5 196.1L776 195.7L773.5 195.4" stroke-width="6.6"/>
<path d="M773.5 195.4L771 195.1L768.5 195" stroke-width="6.2"/>
<path d="M768.5 195L765.8 195.2L763.1 195.6" stroke-width="5.9"/>
<path d="M763.1 195.6L760.4 196.1L757.7 196.5" stroke-width="5.7"/>
<path d="M757.7 196.5L755 196.8L752.3 196.7" stroke-width="5.6"/>
<path d="M752.3 196.7L749.7 196.4L747 196" stroke-width="5.8"/>
<path d="M745.5 193L745.7 195.6L745.9 198.1" stroke-width="5.2"/>
<path d="M745.9 198.1L746.1 200.7L746.3 203.2" stroke-width="5.7"/>
<path d="M746.3 203.2L746.5 205.8L746.7 208.3" stroke-width="6.1"/>
<path d="M746.7 208.3L746.9 210.9L747.1 213.4" stroke-width="6.6"/>
<path d="M747.1 213.4L747.3 216L747.4 218.6" stroke-width="6.9"/>
<path d="M747.4 218.6L747.4 221.2L747.5 223.8" stroke-width="7.1"/>
<path d="M747.5 223.8L747.5 226.4L747.6 228.9" stroke-width="7.1"/>
<path d="M747.6 228.9L747.6 231.5L747.7 234.1" stroke-width="7.2"/>
<path d="M747.7 234.1L747.7 236.7L747.8 239.3" stroke-width="7.2"/>
<path d="M747.8 239.3L747.8 241.9L747.9 244.5" stroke-width="7.3"/>
<path d="M747.9 244.5L747.9 247.1L748 249.6" stroke-width="7.4"/>
<path d="M748 249.6L748 252.2L748.1 254.8" stroke-width="7.4"/>
<path d="M748.1 254.8L748.1 257.4L748.2 260" stroke-width="7.5"/>
<path d="M748.2 260L748.3 262.5L748.3 265" stroke-width="7.5"/>
<path d="M748.3 265L748.4 267.5L748.5 270" stroke-width="7.5"/>
<path d="M748.5 270L748.6 272.5L748.6 275.1" stroke-width="7.6"/>
<path d="M748.6 275.1L748.7 277.6L748.8 280.1" stroke-width="7.6"/>
<path d="M748.8 280.1L748.8 282.6L748.9 285.1" stroke-width="7.6"/>
<path d="M748.9 285.1L749 287.6L749 290.1" stroke-width="7.6"/>
<path d="M749 290.1L749.1 292.6L749.2 295.1" stroke-width="7.6"/>
<path d="M749.2 295.1L749.3 297.6L749.3 300.1" stroke-width="7.7"/>
<path d="M749.3 300.1L749.4 302.7L749.5 305.2" stroke-width="7.7"/>
<path d="M749.5 305.2L749.5 307.7L749.6 310.2" stroke-width="7.7"/>
<path d="M749.6 310.2L749.7 312.7L749.8 315.2" stroke-width="7.7"/>
<path d="M749.8 315.2L749.8 317.7L749.9 320.2" stroke-width="7.8"/>
<path d="M749.9 320.2L750 322.7L750 325.2" stroke-width="7.8"/>
<path d="M750 325.2L750.1 327.7L750.2 330.3" stroke-width="7.8"/>
<path d="M750.2 330.3L750.2 332.8L750.3 335.3" stroke-width="7.8"/>
<path d="M750.3 335.3L750.4 337.8L750.5 340.3" stroke-width="7.9"/>
<path d="M750.5 340.3L750.5 342.8L750.6 345.3" stroke-width="7.9"/>
<path d="M750.6 345.3L750.7 347.8L750.7 350.3" stroke-width="7.9"/>
<path d="M750.7 350.3L750.8 352.8L750.9 355.3" stroke-width="7.9"/>
<path d="M750.9 355.3L750.9 357.9L751 360.4" stroke-width="7.9"/>
<path d="M751 360.4L751.1 362.9L751.2 365.4" stroke-width="8"/>
<path d="M751.2 365.4L751.2 367.9L751.3 370.4" stroke-width="8"/>
<path d="M751.3 370.4L751.4 373L751.4 375.7" stroke-width="8"/>
<path d="M751.4 375.7L751.5 378.3L751.5 380.9" stroke-width="7.9"/>
<path d="M751.5 380.9L751.6 383.6L751.7 386.2" stroke-width="7.8"/>
<path d="M751.7 386.2L751.7 388.9L751.8 391.5" stroke-width="7.8"/>
<path d="M751.8 391.5L751.9 394.1L751.9 396.8" stroke-width="7.7"/>
<path d="M751.9 396.8L752 399.4L752 402.1" stroke-width="7.7"/>
<path d="M752 402.1L752.1 404.7L752.2 407.3" stroke-width="7.6"/>
<path d="M752.2 407.3L752.2 410L752.3 412.6" stroke-width="7.5"/>
<path d="M752.3 412.6L754.9 412.5L757.4 412.4" stroke-width="6.9"/>
<path d="M757.4 412.4L760 412.3L762.6 412.3" stroke-width="6.8"/>
<path d="M762.6 412.3L765.1 412.2L767.7 412.1" stroke-width="6.6"/>
<path d="M767.7 412.1L770.3 412L772.9 411.9" stroke-width="6.5"/>
<path d="M772.9 411.9L775.4 411.8L778 411.7" stroke-width="6.3"/>
<path d="M778 411.7L780.6 411.7L783.1 411.6" stroke-width="6.2"/>
<path d="M783.1 411.6L785.7 411.5L788.2 411.4" stroke-width="6"/>
<path d="M788.2 411.4L790.7 411.4L793.2 411.3" stroke-width="6"/>
<path d="M793.2 411.3L795.7 411.2L798.2 411.2" stroke-width="6"/>
<path d="M798.2 411.2L800.7 411.1L803.2 411" stroke-width="6"/>
<path d="M803.2 411L805.7 411L808.2 410.9" stroke-width="6"/>
<path d="M808.2 410.9L810.7 410.8L813.2 410.8" stroke-width="6"/>
<path d="M813.2 410.8L815.7 410.7" stroke-width="6"/>
<path d="M831.9 415L834.9 413.5L838 412" stroke-width="7"/>
<path d="M838 412L840.5 410.8L843.1 409.7" stroke-width="4.2"/>
<path d="M843.1 409.7L845.6 408.6" stroke-width="2.9"/>
<path d="M858 409.5C862 410.1 866 411.2 870 411.3C872.3 411.4 874.7 410.4 877 410" stroke-width="2.5"/>
<path d="M832.5 341.9L834.4 343.7L836.2 345.6L838 347.5L839.7 349.5L841.3 351.5L842.8 353.6L844.3 355.7L845.7 357.9L847 360L848.3 362.2L849.5 364.5L850.6 366.8L851.6 369.1L852.6 371.4L853.5 373.8L854.3 376.2L855 378.6L855.7 381.1L856.3 383.6L856.8 386.1L857.2 388.6L857.6 391.1L857.9 393.7L858 396.3L858.2 398.9L858.2 401.5L858.1 404.1L858 406.7L857.8 409.4L857.5 412L857.1 414.6L856.7 417.2L856.1 419.8L855.5 422.4L854.8 425L854.1 427.5L853.3 430L852.4 432.4L851.4 434.8L850.3 437.2L849.2 439.5L848 441.8L846.7 444L845.4 446.1L844 448.2L842.6 450.3L841.1 452.4L839.7 454.4L838.2 456.5L836.7 458.6L835.2 460.7L833.7 462.8L832.2 465L830.7 467.2L829.2 469.5L827.8 471.7L826.2 473.9L824.7 476.1L823.1 478.2L821.5 480.3L819.9 482.4L818.1 484.3L816.4 486.2L814.5 488L812.6 489.7L810.6 491.3L808.5 492.8L806.4 494.1L804.1 495.3L801.8 496.3L799.4 497.1L797 497.7L794.5 498.2L792 498.4L789.5 498.4L786.9 498.3L784.3 498L781.7 497.5L779.2 497L776.7 496.3L774.2 495.6L771.7 494.8L769.2 494L766.8 493L764.4 492L762.1 491L759.7 489.9L757.4 488.7L755.1 487.5L752.8 486.2L750.5 484.9L748.3 483.6L746 482.2L743.8 480.7L741.6 479.2L739.5 477.7L737.4 476.1L735.3 474.5L733.2 472.8L731.2 471.1L729.3 469.3L727.3 467.5L725.5 465.7L723.7 463.8L721.9 461.9L720.2 459.9L718.6 457.9L717 455.9L715.6 453.8L714.1 451.7L712.8 449.5L711.5 447.3L710.3 445.1L709.2 442.8L708.2 440.5L707.3 438.1L706.5 435.7L705.7 433.3L705.1 430.8L704.6 428.3L704.2 425.8L703.8 423.3L703.6 420.7L703.4 418.1L703.4 415.5L703.4 412.8L703.5 410.2L703.7 407.6L703.9 404.9L704.2 402.3L704.6 399.7L705.1 397.1L705.6 394.5L706.1 391.9L706.8 389.4L707.4 386.9L708.2 384.4L708.9 381.9L709.8 379.5L710.6 377.1L711.6 374.7L712.6 372.4L713.6 370.1L714.8 367.8L715.9 365.5L717.2 363.2L718.5 361L719.9 358.8L721.3 356.6L722.8 354.4L724.3 352.3L726 350.2L727.6 348.1L729.4 346.1L731.2 344.2L733 342.2L734.9 340.4L736.8 338.5L738.8 336.8L740.8 335.1L742.9 333.5L745 331.9L747.1 330.4L749.3 329L751.6 327.7L753.8 326.4L756.1 325.3L758.4 324.2L760.8 323.2L763.1 322.3L765.5 321.6L768 320.9L770.4 320.3L772.9 319.9L775.4 319.5L777.9 319.3L780.4 319.2L782.9 319.2L785.5 319.4L788 319.6L790.5 320L793.1 320.5L795.6 321L798.2 321.7L800.7 322.5L803.2 323.4L805.6 324.3L808.1 325.4L810.5 326.5L812.9 327.8L815.3 329.1L817.6 330.4L819.9 331.9L822.1 333.4L824.3 335L826.4 336.6L828.5 338.3L830.5 340.1L832.5 341.9Z" stroke-width="5.2"/>
<path d="M758.4 331.1L761 330.4L763.7 329.7" stroke-width="2.1"/>
<path d="M763.7 329.7L766.3 328.9L768.9 328.1" stroke-width="2.4"/>
<path d="M768.9 328.1L771.6 327.4L774.2 326.8" stroke-width="2.6"/>
<path d="M774.2 326.8L776.8 326.3L779.5 326.1" stroke-width="2.9"/>
<path d="M779.5 326.1L782.3 326L785.1 326.1" stroke-width="3"/>
<path d="M785.1 326.1L787.9 326.3L790.7 326.7" stroke-width="3"/>
<path d="M790.7 326.7L793.5 327.1L796.3 327.7" stroke-width="3"/>
<path d="M796.3 327.7L799 328.3L801.6 329.1" stroke-width="3"/>
<path d="M801.6 329.1L804.3 330.4L806.8 332.2" stroke-width="2.9"/>
<path d="M806.8 332.2L809.2 334.3L811.7 336.2" stroke-width="2.6"/>
<path d="M755.4 410.6L756.9 408.3L758.3 406.1" stroke-width="4"/>
<path d="M758.3 406.1L759.8 403.8L761.3 401.6" stroke-width="4"/>
<path d="M761.3 401.6L762.7 399.3L764.2 397.1" stroke-width="4"/>
<path d="M764.2 397.1L765.6 394.8L767.1 392.5" stroke-width="4"/>
<path d="M767.1 392.5L768.6 390.3L770 388" stroke-width="4"/>
<path d="M770 388L771.4 385.8L772.7 383.7" stroke-width="3.9"/>
<path d="M772.7 383.7L774.1 381.5L775.4 379.3" stroke-width="3.9"/>
<path d="M775.4 379.3L776.7 377.1L778.1 375" stroke-width="3.8"/>
<path d="M778.1 375L779.4 372.8L780.8 370.6" stroke-width="3.6"/>
<path d="M780.8 370.6L782.1 368.4L783.5 366.3" stroke-width="3.6"/>
<path d="M783.5 366.3L785.2 363.8L787 361.3" stroke-width="3.5"/>
<path d="M787 361.3L788.8 358.8L790.6 356.3" stroke-width="3.5"/>
<path d="M776 366.5L778 364.7L779.9 362.9" stroke-width="6.8"/>
<path d="M779.9 362.9L781.9 361.1L784 359.5" stroke-width="6.2"/>
<path d="M784 359.5L786.3 357.7L788.8 356.1" stroke-width="5.8"/>
<path d="M788.8 356.1L791 355.5L792.9 357.1" stroke-width="5.6"/>
<path d="M792.9 357.1L794 360L793.9 362.9" stroke-width="6"/>
<path d="M793.9 362.9L793.2 365.8L792.6 368.8" stroke-width="6.3"/>
<path d="M805 375.4L802.4 377.8L799.9 380.1" stroke-width="5.5"/>
<path d="M799.9 380.1L798.4 382.8L798.2 385.7" stroke-width="5.5"/>
<path d="M798.2 385.7L798.6 389L799.5 392" stroke-width="5.5"/>
<path d="M799.5 392L800.9 394.3L803.1 395.1" stroke-width="5.6"/>
<path d="M803.1 395.1L806.1 394.9L809 394.3" stroke-width="5.8"/>
<path d="M809 394.3L812 392.9L814.8 391" stroke-width="6.2"/>
<path d="M880 208L882.5 208L885 207.9" stroke-width="8"/>
<path d="M885 207.9L887.5 207.9L890 207.9" stroke-width="8.1"/>
<path d="M890 207.9L892.5 207.9L895 207.8" stroke-width="8.2"/>
<path d="M895 207.8L897.5 207.8L900 207.8" stroke-width="8.2"/>
<path d="M900 207.8L902.5 207.8L905 207.7" stroke-width="8.3"/>
<path d="M905 207.7L907.5 207.6L910 207.5" stroke-width="8.4"/>
<path d="M910 207.5L912.5 207.4L915 207.3" stroke-width="8.5"/>
<path d="M915 207.3L917.5 207.1L920 206.9" stroke-width="8.2"/>
<path d="M920 206.9L922.5 206.7L925 206.4" stroke-width="7.5"/>
<path d="M925 206.4L927.5 206.1L930 205.8" stroke-width="6.9"/>
<path d="M930 205.8L932.5 205.5L935 205.2" stroke-width="6.3"/>
<path d="M935 205.2L937.5 204.9L940 204.6" stroke-width="5.6"/>
<path d="M940 204.6L942.5 204.3" stroke-width="5.2"/>
<path d="M875.5 207.5L873 260L873.5 330L876 390L877 410L900 410.3L955 414" stroke-width="7"/>
<path d="M964.5 413.5L967.2 412.1L969.8 410.6" stroke-width="6"/>
<path d="M969.8 410.6L972.6 409.8L975.1 409.6" stroke-width="4.3"/>
<path d="M975.1 409.6L977.6 409.4L980.2 409.4" stroke-width="3.9"/>
<path d="M980.2 409.4L982.7 409.4L985.3 409.5" stroke-width="3.8"/>
<path d="M985.3 409.5L987.9 409.6L990.5 409.8" stroke-width="3.6"/>
<path d="M990.5 409.8L993 410L995.6 410.2" stroke-width="3.6"/>
<path d="M995.6 410.2L998.1 410.6L1000.7 410.9" stroke-width="3.8"/>
<path d="M1000.7 410.9L1003.3 411.3L1005.8 411.8" stroke-width="4"/>
<path d="M1005.8 411.8L1008.4 412.2L1010.9 412.6" stroke-width="4.2"/>
<path d="M1010.9 412.6L1013.5 413" stroke-width="4.4"/>
<path d="M884.5 211L886.6 212.9L888.7 214.7" stroke-width="5.3"/>
<path d="M888.7 214.7L890.9 216.5L893 218.4" stroke-width="5"/>
<path d="M893 218.4L894.9 220.4L896.6 222.5" stroke-width="4.7"/>
<path d="M896.6 222.5L898 224.7L899.4 227" stroke-width="4.6"/>
<path d="M899.4 227L900.6 229.4L901.8 231.8" stroke-width="4.7"/>
<path d="M901.8 231.8L903 234.2L904.1 236.7" stroke-width="4.8"/>
<path d="M904.1 236.7L905.2 239.1L906.3 241.6" stroke-width="4.9"/>
<path d="M906.3 241.6L907.5 244" stroke-width="5"/>
<path d="M897.5 243.2L900 243.9L902.5 244.6" stroke-width="5.9"/>
<path d="M902.5 244.6L905 245.2L907.5 245.9" stroke-width="5.6"/>
<path d="M907.5 245.9L909 243.3L910.4 240.8" stroke-width="5.5"/>
<path d="M910.4 240.8L911.9 238.2L913.3 235.7" stroke-width="5.5"/>
<path d="M913.3 235.7L914.8 233.1" stroke-width="5.5"/>
<path d="M938.6 224.9L935.6 225.6L932.7 226.3" stroke-width="5.8"/>
<path d="M932.7 226.3L930.4 227.6L928.6 230.4" stroke-width="5.6"/>
<path d="M928.6 230.4L927.5 233.8L927.6 236.8" stroke-width="5.5"/>
<path d="M927.6 236.8L929.2 238.8L932 240.3" stroke-width="5.5"/>
<path d="M932 240.3L935 241.4L937.6 242" stroke-width="5.6"/>
<path d="M937.6 242L940.4 242.4L943.1 242.7" stroke-width="5.9"/>
<path d="M943.1 242.7L945.9 242.9L948.7 243.2" stroke-width="6.3"/>
<path d="M798.2 340L799.2 337.2L800.2 334.4" stroke-width="3.8"/>
<path d="M800.2 334.4L801.3 331.6L802.4 328.8" stroke-width="3.4"/>
<path d="M802.4 328.8L803.7 326.2L805.2 323.9" stroke-width="3.1"/>
<path d="M805.2 323.9L806.9 321.8L808.7 319.7" stroke-width="3"/>
<path d="M808.7 319.7L810.5 317.5L812 315.3" stroke-width="3"/>
<path d="M812 315.3L812.6 312.5L813.3 309.8" stroke-width="3"/>
<path d="M813.3 309.8L814.9 307.7L816.8 305.7" stroke-width="3"/>
<path d="M816.8 305.7L818.6 303.7L820.2 301.5" stroke-width="3"/>
<path d="M820.2 301.5L821.4 298.9L822.3 296.1" stroke-width="3"/>
<path d="M822.3 296.1L823.1 293.3L824.3 290.6" stroke-width="3"/>
<path d="M824.3 290.6L825.6 288.4L826.9 286.3" stroke-width="3"/>
<path d="M826.9 286.3L828.3 284.1L829.8 282" stroke-width="3"/>
<path d="M829.8 282L831.2 280L832.7 277.9" stroke-width="3"/>
<path d="M832.7 277.9L834.1 275.7L835.4 273.6" stroke-width="3"/>
<path d="M835.4 273.6L836.7 271.4L837.9 268.7" stroke-width="3"/>
<path d="M837.9 268.7L838.9 266L839.7 263.1" stroke-width="3"/>
<path d="M839.7 263.1L840.8 260.4L841.9 258" stroke-width="3"/>
<path d="M841.9 258L843 255.6L844.1 253.2" stroke-width="3"/>
<path d="M844.1 253.2L845.3 250.9L846.5 248.5" stroke-width="3"/>
<path d="M846.5 248.5L847.7 246.2L849 243.9" stroke-width="3"/>
<path d="M849 243.9L850.9 241.2L853 238.5" stroke-width="3"/>
<path d="M853 238.5L854.5 235.7L855.1 233.3" stroke-width="3"/>
<path d="M855.1 233.3L855.5 230.7L855.7 228.1" stroke-width="3"/>
<path d="M855.7 228.1L856 225.5L856.4 223" stroke-width="3"/>
<path d="M856.4 223L857.2 220.6L858.4 218.5" stroke-width="3"/>
<path d="M858.4 218.5L860 216.5L861.9 214.7" stroke-width="2.8"/>
<path d="M861.9 214.7L863.7 212.9L865.5 211" stroke-width="2.6"/>
<path d="M797.8 341.5L799 337.5" stroke-width="5.5"/>
<path d="M917.6 256.1L919.6 258.2L921.6 260.3" stroke-width="2.2"/>
<path d="M921.6 260.3L923.6 262.4L925.7 264.4" stroke-width="2.6"/>
<path d="M925.7 264.4L927.8 266.3L929.8 267.9" stroke-width="2.9"/>
<path d="M929.8 267.9L931.8 269.6L933.8 271.2" stroke-width="2.9"/>
<path d="M933.8 271.2L935.8 272.7L937.8 274.3" stroke-width="2.8"/>
<path d="M937.8 274.3L939.8 275.9L941.9 277.4" stroke-width="2.7"/>
<path d="M941.9 277.4L943.9 279L946 280.6" stroke-width="2.6"/>
<path d="M946 280.6L948 282.1L950 283.7" stroke-width="2.5"/>
<path d="M950 283.7L952.1 285.2L954.1 286.8" stroke-width="2.4"/>
<path d="M961.5 294.1C963.4 297 964.8 300.4 967.3 302.9C973.6 309.2 981.1 314.5 987.8 320.5C993.8 325.8 999.6 331.2 1005.4 336.6C1013.2 343.9 1020.7 351.6 1028.8 358.5C1034.3 363.3 1040.8 367 1046.3 371.7C1050.5 375.3 1054.1 379.5 1058 383.4" stroke-width="2.3"/>
<path d="M1090 204.8L1087.7 202.1L1085 200.3" stroke-width="7"/>
<path d="M1085 200.3L1082.6 200L1080.2 199.9" stroke-width="7"/>
<path d="M1080.2 199.9L1077.7 199.9L1075.2 199.9" stroke-width="6.9"/>
<path d="M1075.2 199.9L1072.7 200L1070.1 200.1" stroke-width="6.8"/>
<path d="M1070.1 200.1L1067.6 200.3L1065 200.5" stroke-width="6.6"/>
<path d="M1065 200.5L1062.5 200.7L1060 200.8" stroke-width="6.5"/>
<path d="M1060 200.8L1057.3 201L1054.6 201.1" stroke-width="6.4"/>
<path d="M1054.6 201.1L1051.9 201.3L1049.2 201.6" stroke-width="6"/>
<path d="M1049.2 201.6L1046.5 201.8L1043.8 202" stroke-width="5.8"/>
<path d="M1043.8 202L1041.1 202.3L1038.4 202.5" stroke-width="5.5"/>
<path d="M1038.4 202.5L1035.7 202.8L1033 203" stroke-width="5.1"/>
<path d="M1032 203L1031.9 205.6L1031.8 208.3" stroke-width="7"/>
<path d="M1031.8 208.3L1031.6 210.9L1031.5 213.6" stroke-width="7"/>
<path d="M1031.5 213.6L1031.3 216.2L1031.2 218.9" stroke-width="7"/>
<path d="M1031.2 218.9L1031.1 221.5L1030.9 224.1" stroke-width="7"/>
<path d="M1030.9 224.1L1030.8 226.8L1030.7 229.4" stroke-width="7"/>
<path d="M1030.7 229.4L1030.6 232.1L1030.6 234.7" stroke-width="7"/>
<path d="M1030.6 234.7L1030.5 237.4L1030.5 240" stroke-width="7"/>
<path d="M1030.5 240L1030.5 242.5L1030.5 245" stroke-width="7"/>
<path d="M1030.5 245L1030.5 247.5L1030.6 250" stroke-width="7.1"/>
<path d="M1030.6 250L1030.6 252.5L1030.7 255" stroke-width="7.1"/>
<path d="M1030.7 255L1030.7 257.5L1030.8 260" stroke-width="7.2"/>
<path d="M1030.8 260L1030.9 262.5L1031 265" stroke-width="7.2"/>
<path d="M1031 265L1031.1 267.5L1031.2 270" stroke-width="7.3"/>
<path d="M1031.2 270L1031.3 272.5L1031.4 275" stroke-width="7.3"/>
<path d="M1031.4 275L1031.5 277.5L1031.6 280" stroke-width="7.4"/>
<path d="M1031.6 280L1031.7 282.5L1031.8 285" stroke-width="7.4"/>
<path d="M1031.8 285L1031.9 287.5L1032 290" stroke-width="7.5"/>
<path d="M1032 290L1032.1 292.6L1032.3 295.2" stroke-width="7.5"/>
<path d="M1032.3 295.2L1032.4 297.8L1032.6 300.4" stroke-width="7.5"/>
<path d="M1032.6 300.4L1032.8 303L1032.9 305.6" stroke-width="7.5"/>
<path d="M1032.9 305.6L1033.1 308.2L1033.3 310.8" stroke-width="7.5"/>
<path d="M1033.3 310.8L1033.5 313.4L1033.7 316" stroke-width="7.5"/>
<path d="M1033.7 316L1033.9 318.6L1034.1 321.2" stroke-width="7.5"/>
<path d="M1034.1 321.2L1034.2 323.8L1034.4 326.4" stroke-width="7.5"/>
<path d="M1034.4 326.4L1034.5 329L1034.7 331.6" stroke-width="7.5"/>
<path d="M1034.7 331.6L1034.8 334.2L1034.9 336.8" stroke-width="7.5"/>
<path d="M1034.9 336.8L1034.9 339.4L1035 342" stroke-width="7.5"/>
<path d="M1035 342L1035 344.5L1035 347.1" stroke-width="7.5"/>
<path d="M1035 347.1L1035 349.6L1034.9 352.1" stroke-width="7.5"/>
<path d="M1034.9 352.1L1034.9 354.6L1034.8 357.2" stroke-width="7.5"/>
<path d="M1034.8 357.2L1034.7 359.7L1034.6 362.2" stroke-width="7.5"/>
<path d="M1034.6 362.2L1034.4 364.7L1034.3 367.3" stroke-width="7.5"/>
<path d="M1034.3 367.3L1034.2 369.8L1034.1 372.3" stroke-width="7.5"/>
<path d="M1034.1 372.3L1034 374.8L1033.8 377.4" stroke-width="7.5"/>
<path d="M1033.8 377.4L1033.7 379.9L1033.7 382.4" stroke-width="7.5"/>
<path d="M1033.7 382.4L1033.6 384.9L1033.5 387.5" stroke-width="7.5"/>
<path d="M1033.5 387.5L1033.5 390L1033.5 392.7" stroke-width="7.5"/>
<path d="M1033.5 392.7L1033.6 395.3L1033.7 398" stroke-width="7.5"/>
<path d="M1033.7 398L1033.9 400.7L1034 403.3" stroke-width="7.5"/>
<path d="M1034 403.3L1034.2 406L1034.4 408.6" stroke-width="7.5"/>
<path d="M1034.4 408.6L1034.5 411.3" stroke-width="7.5"/>
<path d="M1034.5 411.3L1037 411.3L1039.6 411.4" stroke-width="7.5"/>
<path d="M1039.6 411.4L1042.1 411.5L1044.7 411.5" stroke-width="7.4"/>
<path d="M1044.7 411.5L1047.2 411.6L1049.8 411.7" stroke-width="7.3"/>
<path d="M1049.8 411.7L1052.3 411.7L1054.8 411.8" stroke-width="7.2"/>
<path d="M1054.8 411.8L1057.4 411.8L1059.9 411.8" stroke-width="7.1"/>
<path d="M1059.9 411.8L1062.5 411.8L1065 411.8" stroke-width="7"/>
<path d="M1065 411.8L1067.6 411.8L1070.2 411.7" stroke-width="7"/>
<path d="M1070.2 411.7L1072.8 411.6L1075.5 411.5" stroke-width="7"/>
<path d="M1075.5 411.5L1078.1 411.4L1080.7 411.3" stroke-width="7"/>
<path d="M1080.7 411.3L1083.3 411.2L1085.9 411.1" stroke-width="7"/>
<path d="M1085.9 411.1L1088.5 411L1091.2 410.8" stroke-width="7"/>
<path d="M1091.2 410.8L1093.8 410.7L1096.4 410.6" stroke-width="7"/>
<path d="M1096.4 410.6L1099 410.5" stroke-width="7"/>
<path d="M1059.7 388.6L1062 389.9L1064.2 391.1" stroke-width="4.3"/>
<path d="M1064.2 391.1L1066.5 392.4L1068.7 393.7" stroke-width="5"/>
<path d="M1068.7 393.7L1071 394.9L1073.2 396.2" stroke-width="5.7"/>
<path d="M1073.2 396.2L1075.5 397.5L1077.7 398.7" stroke-width="6.3"/>
<path d="M1077.7 398.7L1080 400L1082.2 401.3" stroke-width="6.9"/>
<path d="M1082.2 401.3L1084.5 402.5L1086.7 403.8" stroke-width="7"/>
<path d="M1086.7 403.8L1089 405L1091.2 406.3" stroke-width="7"/>
<path d="M1091.2 406.3L1093.5 407.5L1095.7 408.8" stroke-width="7"/>
<path d="M1095.7 408.8L1098 410" stroke-width="7"/>
<path d="M1090.4 396.3L1091.7 398.6L1092.9 400.9" stroke-width="6.5"/>
<path d="M1092.9 400.9L1094.2 403.1L1095.5 405.4" stroke-width="6.5"/>
<path d="M1095.5 405.4L1096.7 407.7L1098 410" stroke-width="6.5"/>
<path d="M1091 358L1088.6 356.5L1086.2 355" stroke-width="6"/>
<path d="M1086.2 355L1084 354.5L1081.7 355.6" stroke-width="6"/>
<path d="M1081.7 355.6L1079.6 357.6L1078 360" stroke-width="6"/>
<path d="M1078 360L1077 362.9L1076.6 366.1" stroke-width="6"/>
<path d="M1076.6 366.1L1077 369L1078.4 371.8" stroke-width="6"/>
<path d="M1078.4 371.8L1080.5 374.3L1083 376" stroke-width="6"/>
<path d="M1083 376L1085.6 376.4L1088.6 375.9" stroke-width="6.2"/>
<path d="M1088.6 375.9L1091.5 375.5" stroke-width="6.4"/>
<path d="M1152 204L1154.6 203.2L1157.2 202.3" stroke-width="6"/>
<path d="M1157.2 202.3L1159.7 201.3L1162.3 200.4" stroke-width="6"/>
<path d="M1162.3 200.4L1164.9 199.7L1167.4 199.2" stroke-width="6"/>
<path d="M1167.4 199.2L1170 199L1172.7 199.1" stroke-width="6"/>
<path d="M1172.7 199.1L1175.6 199.5L1178.5 200.2" stroke-width="6"/>
<path d="M1178.5 200.2L1181.1 201.2L1183.4 202.4" stroke-width="6"/>
<path d="M1183.4 202.4L1185 204L1186 206.1" stroke-width="6"/>
<path d="M1186 206.1L1186.6 208.7L1186.7 211.6" stroke-width="6"/>
<path d="M1186.7 211.6L1186.5 214.6L1185.9 217.4" stroke-width="6"/>
<path d="M1185.9 217.4L1185 220L1183.9 222.3" stroke-width="6"/>
<path d="M1183.9 222.3L1182.6 224.5L1181.2 226.6" stroke-width="6"/>
<path d="M1181.2 226.6L1179.7 228.8L1178.1 230.9" stroke-width="6"/>
<path d="M1178.1 230.9L1176.5 233L1174.8 235" stroke-width="6"/>
<path d="M1174.8 235L1173.1 237.1L1171.5 239.2" stroke-width="6"/>
<path d="M1171.5 239.2L1169.8 241.3L1168.2 243.4" stroke-width="6"/>
<path d="M1168.2 243.4L1166.7 245.6L1165.3 247.8" stroke-width="6"/>
<path d="M1165.3 247.8L1164 250L1162.8 252.5" stroke-width="6"/>
<path d="M1162.8 252.5L1161.7 255.1L1160.9 257.9" stroke-width="5.8"/>
<path d="M1160.9 257.9L1160.3 260.6L1160 263.4" stroke-width="5.7"/>
<path d="M1160 263.4L1160 266L1160.4 268.7" stroke-width="5.5"/>
<path d="M1160.4 268.7L1161.4 271.4L1162.7 274" stroke-width="5.5"/>
<path d="M1162.7 274L1164.2 276.4L1166 278.5" stroke-width="5.5"/>
<path d="M1166 278.5L1168.3 280.1L1171.4 281.3" stroke-width="5.5"/>
<path d="M1171.4 281.3L1174.5 282.3L1176.9 283.3" stroke-width="5.5"/>
<path d="M1176.9 283.3L1178 284.5L1176.7 285.9" stroke-width="5.5"/>
<path d="M1176.7 285.9L1173.3 287.2L1169.9 288.7" stroke-width="5.5"/>
<path d="M1169.9 288.7L1168 290.6L1168.1 292.7" stroke-width="5.5"/>
<path d="M1168.1 292.7L1169.1 295.2L1170.6 297.7" stroke-width="5.7"/>
<path d="M1170.6 297.7L1172.3 300.3L1174 302.6" stroke-width="5.9"/>
<path d="M1174 302.6L1175.5 304.7L1177.2 306.6" stroke-width="6"/>
<path d="M1177.2 306.6L1179 308.6L1180.8 310.5" stroke-width="6.1"/>
<path d="M1180.8 310.5L1182.7 312.4L1184.5 314.3" stroke-width="6.2"/>
<path d="M1184.5 314.3L1186.1 316.3L1187.6 318.3" stroke-width="6.4"/>
<path d="M1187.6 318.3L1188.9 320.4L1190 322.7" stroke-width="6.5"/>
<path d="M1190 322.7L1190.9 325.1L1191.7 327.6" stroke-width="6.5"/>
<path d="M1191.7 327.6L1192.4 330.1L1193 332.6" stroke-width="6.5"/>
<path d="M1193 332.6L1193.6 335.2L1194 337.8" stroke-width="6.5"/>
<path d="M1194 337.8L1194.5 340.5L1194.8 343.1" stroke-width="6.5"/>
<path d="M1194.8 343.1L1195.1 345.8L1195.4 348.4" stroke-width="6.5"/>
<path d="M1195.4 348.4L1195.6 351.1L1195.8 353.8" stroke-width="6.5"/>
<path d="M1195.8 353.8L1195.9 356.4L1196 359" stroke-width="6.5"/>
<path d="M1196 359L1196 361.7L1196 364.5" stroke-width="6.6"/>
<path d="M1196 364.5L1195.9 367.2L1195.6 370" stroke-width="6.7"/>
<path d="M1195.6 370L1195.2 372.8L1194.6 375.5" stroke-width="6.8"/>
<path d="M1194.6 375.5L1193.9 378.1L1193.1 380.6" stroke-width="6.9"/>
<path d="M1193.1 380.6L1192 383L1190.7 385.1" stroke-width="7"/>
<path d="M1190.7 385.1L1189.2 387.1L1187.5 389" stroke-width="7"/>
<path d="M1187.5 389L1185.6 390.8L1183.5 392.5" stroke-width="7"/>
<path d="M1183.5 392.5L1181.5 394.2L1179.4 396" stroke-width="7"/>
<path d="M1179.4 396L1177.4 397.7L1175.5 399.5" stroke-width="7"/>
<path d="M1220.6 251L1220.5 253.6L1220.4 256.3" stroke-width="4.1"/>
<path d="M1220.4 256.3L1220.3 258.9L1220.2 261.5" stroke-width="4.4"/>
<path d="M1220.2 261.5L1220.1 264.2L1220 266.8" stroke-width="4.7"/>
<path d="M1220 266.8L1219.9 269.5L1219.8 272.1" stroke-width="5"/>
<path d="M1219.8 272.1L1219.7 274.7L1219.6 277.4" stroke-width="5.2"/>
<path d="M1219.6 277.4L1219.5 280L1219.4 282.5" stroke-width="5.5"/>
<path d="M1219.4 282.5L1219.3 285L1219.2 287.5" stroke-width="5.8"/>
<path d="M1219.2 287.5L1219 290L1218.9 292.5" stroke-width="6.1"/>
<path d="M1218.9 292.5L1218.8 295L1218.7 297.5" stroke-width="6.4"/>
<path d="M1218.7 297.5L1218.6 300L1218.5 302.5" stroke-width="6.7"/>
<path d="M1218.5 302.5L1218.5 305L1218.3 308" stroke-width="7.1"/>
<path d="M1218.3 308L1218.3 311L1219 313" stroke-width="7.7"/>
<path d="M1219 313L1221.8 312.9L1224.7 311" stroke-width="7.5"/>
<path d="M1224.7 311L1226.1 308.6L1227 305.7" stroke-width="6.8"/>
<path d="M1227 305.7L1227.9 302.8L1229 300" stroke-width="6.2"/>
<path d="M1229 300L1230.8 296.6L1233 294.5" stroke-width="6"/>
<path d="M1233 294.5L1235.6 295.5L1237.5 298" stroke-width="6.2"/>
<path d="M1237.5 298L1237.8 300.3L1237.7 302.8" stroke-width="6.6"/>
<path d="M1237.7 302.8L1237.3 305.4L1237 308" stroke-width="6.9"/>
<path d="M1237 308L1236.7 310.8L1236.3 313.5" stroke-width="7"/>
<path d="M1236.3 313.5L1235.8 316.3L1235.4 319" stroke-width="7"/>
<path d="M1305 349.4L1307.6 348.9L1310 348" stroke-width="3.5"/>
<path d="M1310 348L1312.2 345.9L1314.3 343.6" stroke-width="3.6"/>
<path d="M1314.3 343.6L1316.3 341.2L1318.3 338.8" stroke-width="3.7"/>
<path d="M1318.3 338.8L1320 336.8L1321.6 334.8" stroke-width="3.8"/>
<path d="M1321.6 334.8L1323.3 332.7L1324.9 330.7" stroke-width="3.9"/>
<path d="M1324.9 330.7L1326.6 328.7L1328.4 326.8" stroke-width="3.9"/>
<path d="M1328.4 326.8L1330.2 325L1332.1 323.2" stroke-width="4"/>
<path d="M1332.1 323.2L1334.1 321.5L1336.1 319.8" stroke-width="4"/>
<path d="M1336.1 319.8L1338.1 318.1L1340.1 316.4" stroke-width="4"/>
<path d="M1340.1 316.4L1342.1 314.7L1344.1 313" stroke-width="4.1"/>
<path d="M1344.1 313L1346.2 311.4L1348.2 309.7" stroke-width="4.1"/>
<path d="M1348.2 309.7L1350.2 308L1352.3 306.4" stroke-width="4.1"/>
<path d="M1352.3 306.4L1354.3 304.7L1356.4 303.1" stroke-width="4.2"/>
<path d="M1356.4 303.1L1358.4 301.4L1360.4 299.7" stroke-width="4.2"/>
<path d="M1360.4 299.7L1362.4 298L1364.4 296.3" stroke-width="4.2"/>
<path d="M1364.4 296.3L1366.4 294.5L1368.5 292.8" stroke-width="4.2"/>
<path d="M1368.5 292.8L1370.5 291.1L1372.5 289.3" stroke-width="4.3"/>
<path d="M1372.5 289.3L1374.5 287.6L1376.5 285.8" stroke-width="4.3"/>
<path d="M1376.5 285.8L1378.5 284.1L1380.5 282.3" stroke-width="4.4"/>
<path d="M1380.5 282.3L1382.5 280.6L1384.5 278.8" stroke-width="4.4"/>
<path d="M1384.5 278.8L1386.5 277L1388.5 275.3" stroke-width="4.5"/>
<path d="M1388.5 275.3L1390.5 273.5L1392.4 271.8" stroke-width="4.5"/>
<path d="M1392.4 271.8L1394.2 270.1L1396 268.4" stroke-width="4.6"/>
<path d="M1396 268.4L1397.8 266.6L1399.7 264.9" stroke-width="4.7"/>
<path d="M1399.7 264.9L1401.5 263.1L1403.3 261.4" stroke-width="4.8"/>
<path d="M1403.3 261.4L1405.1 259.7L1407 258" stroke-width="4.9"/>
<path d="M1407 258L1409 256.2L1411 254.5" stroke-width="5"/>
<path d="M1411 254.5L1413 252.7L1415 251" stroke-width="5"/>
<path d="M1415 251L1417 249.2L1419 247.5" stroke-width="5"/>
<path d="M1419 247.5L1421 245.7L1423 244" stroke-width="5"/>
<path d="M1423 244L1425 242.2L1427 240.5" stroke-width="5"/>
<path d="M1427 240.5L1429 238.8L1431 237" stroke-width="5"/>
<path d="M1431 237L1433 235.3L1435 233.5" stroke-width="5"/>
<path d="M1435 233.5L1437 231.7L1439 229.9" stroke-width="5"/>
<path d="M1439 229.9L1441 228.1L1443 226.3" stroke-width="5"/>
<path d="M1443 226.3L1444.9 224.5L1446.9 222.6" stroke-width="5"/>
<path d="M1446.9 222.6L1448.9 220.8L1450.9 219" stroke-width="5"/>
<path d="M1450.9 219L1452.9 217.2L1454.9 215.5" stroke-width="5"/>
<path d="M1454.9 215.5L1456.9 213.7L1459 212" stroke-width="5"/>
<path d="M1459 212L1461.1 210.3L1463.2 208.6" stroke-width="5"/>
<path d="M1463.2 208.6L1465.2 206.9L1467.3 205.3" stroke-width="5"/>
<path d="M1467.3 205.3L1469.5 203.6L1471.6 202" stroke-width="5"/>
<path d="M1471.6 202L1473.7 200.3L1475.9 198.7" stroke-width="5"/>
<path d="M1475.9 198.7L1478 197.2L1480.2 195.6" stroke-width="5"/>
<path d="M1480.2 195.6L1482.4 194L1484.6 192.5" stroke-width="5"/>
<path d="M1484.6 192.5L1486.7 191L1488.8 189.6" stroke-width="5"/>
<path d="M1488.8 189.6L1491 188.2L1493.1 186.7" stroke-width="4.9"/>
<path d="M1493.1 186.7L1495.3 185.3L1497.4 183.9" stroke-width="4.9"/>
<path d="M1497.4 183.9L1499.6 182.5L1501.7 181.1" stroke-width="4.8"/>
<path d="M1501.7 181.1L1503.9 179.7L1506.1 178.3" stroke-width="4.8"/>
<path d="M1506.1 178.3L1508.2 177L1510.4 175.6" stroke-width="4.7"/>
<path d="M1510.4 175.6L1512.6 174.2L1514.7 172.8" stroke-width="4.7"/>
<path d="M1514.7 172.8L1516.9 171.4L1519.1 170" stroke-width="4.6"/>
<path d="M1519.1 170L1521.2 168.7L1523.4 167.3" stroke-width="4.6"/>
<path d="M1523.4 167.3L1525.6 165.9L1527.7 164.5" stroke-width="4.5"/>
<path d="M1527.7 164.5L1529.9 163.1" stroke-width="4.5"/>
<path d="M1507.3 158.6L1510 157.9L1512.7 157.2" stroke-width="7.7"/>
<path d="M1512.7 157.2L1515.4 156.5L1518.1 156" stroke-width="7.1"/>
<path d="M1518.1 156L1520.8 155.6L1523.5 155.3" stroke-width="6.6"/>
<path d="M1523.5 155.3L1526.3 155L1529.1 154.7" stroke-width="6.4"/>
<path d="M1529.1 154.7L1531.9 154.5L1534.6 154.5" stroke-width="6.2"/>
<path d="M1534.6 154.5L1537.2 154.6L1539.7 154.9" stroke-width="6.1"/>
<path d="M1539.7 154.9L1542 155.6L1544.3 157.3" stroke-width="6"/>
<path d="M1544.3 157.3L1546.1 159.9L1547.4 163.1" stroke-width="6"/>
<path d="M1547.4 163.1L1548 166.1L1547.8 168.8" stroke-width="6"/>
<path d="M1547.8 168.8L1547 171.5L1545.8 174.2" stroke-width="6.2"/>
<path d="M1545.8 174.2L1544.6 177L1543.5 179.7" stroke-width="6.4"/>
<path d="M1419 190L1416.7 188.3L1414.4 186.6" stroke-width="7.2"/>
<path d="M1414.4 186.6L1412 185.5L1409 185.1" stroke-width="6.6"/>
<path d="M1409 185.1L1405.9 184.9L1402.8 185.2" stroke-width="6.2"/>
<path d="M1402.8 185.2L1400 186L1397.7 187.1" stroke-width="6"/>
<path d="M1397.7 187.1L1395.5 188.5L1393.4 190.1" stroke-width="6"/>
<path d="M1393.4 190.1L1391.6 192L1390 194" stroke-width="6"/>
<path d="M1390 194L1388.8 196.1L1387.7 198.5" stroke-width="6"/>
<path d="M1387.7 198.5L1387 201L1386.5 203.6" stroke-width="6"/>
<path d="M1386.5 203.6L1386.5 206L1386.9 208.7" stroke-width="6"/>
<path d="M1386.9 208.7L1387.7 211.6L1388.9 214.3" stroke-width="6"/>
<path d="M1388.9 214.3L1390.3 216.9L1392 219" stroke-width="6"/>
<path d="M1392 219L1393.9 220.7L1396.3 222.1" stroke-width="6"/>
<path d="M1396.3 222.1L1398.8 223.3L1401.5 223.9" stroke-width="6"/>
<path d="M1401.5 223.9L1404 224L1406.5 223.6" stroke-width="6"/>
<path d="M1406.5 223.6L1408.9 222.9L1411.4 222.1" stroke-width="6.1"/>
<path d="M1411.4 222.1L1413.9 221.1L1416.3 220" stroke-width="6.2"/>
<path d="M1416.3 220L1418.8 218.9L1421.3 217.7" stroke-width="6.3"/>
<path d="M1421.3 217.7L1423.8 216.5L1426.2 215.4" stroke-width="6.4"/>
<path d="M1426.2 215.4L1428.7 214.4" stroke-width="6.5"/>
<path d="M1561.7 350.9L1562 348.3L1562.3 345.8" stroke-width="4.1"/>
<path d="M1562.3 345.8L1562.6 343.2L1562.9 340.7" stroke-width="4.2"/>
<path d="M1562.9 340.7L1563.2 338.1L1563.5 335.6" stroke-width="4.3"/>
<path d="M1563.5 335.6L1563.8 333L1564.1 330.5" stroke-width="4.4"/>
<path d="M1564.1 330.5L1564.4 327.9L1564.7 325.4" stroke-width="4.6"/>
<path d="M1564.7 325.4L1565 322.8L1565.2 320.2" stroke-width="4.7"/>
<path d="M1565.2 320.2L1565.5 317.7L1565.7 315.1" stroke-width="4.8"/>
<path d="M1565.7 315.1L1565.9 312.6L1566.1 310" stroke-width="4.9"/>
<path d="M1566.1 310L1566.3 307.4L1566.4 304.9" stroke-width="5"/>
<path d="M1566.4 304.9L1566.5 302.3L1566.7 299.7" stroke-width="5.1"/>
<path d="M1566.7 299.7L1566.8 297.2L1566.9 294.6" stroke-width="5.1"/>
<path d="M1566.9 294.6L1567 292L1567.1 289.5" stroke-width="5.1"/>
<path d="M1567.1 289.5L1567.2 286.9L1567.3 284.3" stroke-width="5.2"/>
<path d="M1567.3 284.3L1567.4 281.8L1567.4 279.2" stroke-width="5.2"/>
<path d="M1567.4 279.2L1567.5 276.6L1567.6 274" stroke-width="5.2"/>
<path d="M1567.6 274L1567.7 271.5L1567.7 268.9" stroke-width="5.3"/>
<path d="M1567.7 268.9L1567.8 266.3L1567.9 263.8" stroke-width="5.3"/>
<path d="M1567.9 263.8L1568 261.2L1568 258.6" stroke-width="5.3"/>
<path d="M1568 258.6L1568.1 256L1568.2 253.5" stroke-width="5.4"/>
<path d="M1568.2 253.5L1568.3 250.9L1568.4 248.3" stroke-width="5.4"/>
<path d="M1568.4 248.3L1568.6 245.8L1568.7 243.2" stroke-width="5.4"/>
<path d="M1568.7 243.2L1568.8 240.6L1568.9 238.1" stroke-width="5.5"/>
<path d="M1568.9 238.1L1569.1 235.5L1569.3 233" stroke-width="5.5"/>
<path d="M1569.3 233L1569.4 230.4L1569.6 227.9" stroke-width="5.5"/>
<path d="M1569.6 227.9L1569.8 225.4L1570 222.8" stroke-width="5.5"/>
<path d="M1570 222.8L1570.2 220.3L1570.4 217.8" stroke-width="5.5"/>
<path d="M1570.4 217.8L1570.6 215.2L1570.8 212.7" stroke-width="5.5"/>
<path d="M1570.8 212.7L1571 210.2L1571.2 207.6" stroke-width="5.5"/>
<path d="M1571.2 207.6L1571.4 205.1L1571.7 202.6" stroke-width="5.5"/>
<path d="M1571.7 202.6L1571.9 200L1572.1 197.5" stroke-width="5.5"/>
<path d="M1572.1 197.5L1572.4 195L1572.6 192.4" stroke-width="5.5"/>
<path d="M1572.6 192.4L1572.8 189.9L1573.1 187.4" stroke-width="5.5"/>
<path d="M1573.1 187.4L1573.3 184.9L1573.5 182.3" stroke-width="5.5"/>
<path d="M1573.5 182.3L1573.8 179.8L1574 177.3" stroke-width="5.5"/>
<path d="M1574 177.3L1574.2 174.7L1574.4 172.2" stroke-width="5.5"/>
<path d="M1574.4 172.2L1574.7 169.7L1574.9 167.1" stroke-width="5.5"/>
<path d="M1574.9 167.1L1575.1 164.6" stroke-width="5.5"/>
<path d="M1557.3 196L1557.9 193L1558.4 189.9" stroke-width="8.2"/>
<path d="M1558.4 189.9L1559.1 186.9L1560 184" stroke-width="7.8"/>
<path d="M1560 184L1561.1 181.5L1562.3 179.1" stroke-width="7.2"/>
<path d="M1562.3 179.1L1563.5 176.7L1564.9 174.4" stroke-width="6.8"/>
<path d="M1564.9 174.4L1566.4 172.1L1568 170" stroke-width="6.2"/>
<path d="M1568 170L1569.8 167.8L1572 165.6" stroke-width="5.9"/>
<path d="M1572 165.6L1574.1 164L1576 163.5" stroke-width="5.6"/>
<path d="M1576 163.5L1577.9 165.2L1579.5 168.5" stroke-width="5.5"/>
<path d="M1579.5 168.5L1580.5 172L1580.9 174.7" stroke-width="5.5"/>
<path d="M1580.9 174.7L1581.1 177.4L1581.1 180.2" stroke-width="5.7"/>
<path d="M1581.1 180.2L1581 182.9L1581 185.7" stroke-width="5.8"/>
<path d="M1581 185.7L1581 188.5" stroke-width="6"/>
<path d="M1605.3 244.5L1605.5 247.7L1605.7 251" stroke-width="5.1"/>
<path d="M1605.7 251L1606 254L1606.8 256.6" stroke-width="5.4"/>
<path d="M1606.8 256.6L1608.9 257.4L1611.3 256.6" stroke-width="5.5"/>
<path d="M1611.3 256.6L1613.2 254.7L1615 252.5" stroke-width="5.4"/>
<path d="M1615 252.5L1616.8 250.2L1618.5 247.7" stroke-width="5.2"/>
<path d="M1618.5 247.7L1620.2 245.3L1621.9 243" stroke-width="5.1"/>
<path d="M1622.7 240.4L1622.7 243.1L1622.8 245.9" stroke-width="5.1"/>
<path d="M1622.8 245.9L1622.9 248.6L1623 251.3" stroke-width="5.3"/>
<path d="M1623 251.3L1623 254.1L1623.1 256.8" stroke-width="5.6"/>
<path d="M1623.1 256.8L1623.1 259.5L1623.1 262.3" stroke-width="5.8"/>
<path d="M1623.1 262.3L1623 265L1622.9 267.8" stroke-width="6"/>
<path d="M1622.9 267.8L1622.9 270.6L1622.9 273.5" stroke-width="6.1"/>
<path d="M1622.9 273.5L1622.9 276.4L1622.9 279.3" stroke-width="6.2"/>
<path d="M1622.9 279.3L1622.7 282.1L1622.5 284.8" stroke-width="6.3"/>
<path d="M1622.5 284.8L1622.1 287.4L1621.6 289.8" stroke-width="6.4"/>
<path d="M1621.6 289.8L1620.8 292L1618.4 293.8" stroke-width="6.5"/>
<path d="M1618.4 293.8L1614.5 294.3L1611.2 293.5" stroke-width="6.5"/>
<path d="M1611.2 293.5L1609.4 292.1L1607.7 290.4" stroke-width="6.4"/>
<path d="M1607.7 290.4L1606.1 288.3L1604.6 286.1" stroke-width="6.3"/>
<path d="M1604.6 286.1L1603.1 283.8L1601.6 281.6" stroke-width="6.1"/>
<path d="M1601.6 281.6L1600 279.5" stroke-width="6"/>
<path d="M829.8 490L832.1 491.7L834.4 493.6" stroke-width="3.1"/>
<path d="M834.4 493.6L836.7 495.4L839.1 497" stroke-width="3.3"/>
<path d="M839.1 497L841.7 498.2L844.1 499" stroke-width="3.5"/>
<path d="M844.1 499L846.5 499.8L849 500.5" stroke-width="3.7"/>
<path d="M849 500.5L851.4 501.2L853.9 501.9" stroke-width="3.8"/>
<path d="M853.9 501.9L856.4 502.5L859 503" stroke-width="4"/>
<path d="M859 503L861.5 503.6L864 504.1" stroke-width="4.1"/>
<path d="M864 504.1L866.6 504.5L869.1 505" stroke-width="4.3"/>
<path d="M869.1 505L871.7 505.4L874.2 505.8" stroke-width="4.4"/>
<path d="M874.2 505.8L876.8 506.2L879.3 506.5" stroke-width="4.5"/>
<path d="M879.3 506.5L881.9 506.9L884.4 507.2" stroke-width="4.6"/>
<path d="M884.4 507.2L887 507.5L889.6 507.8" stroke-width="4.7"/>
<path d="M889.6 507.8L892.2 508.1L894.7 508.4" stroke-width="4.8"/>
<path d="M894.7 508.4L897.3 508.6L899.9 508.9" stroke-width="4.9"/>
<path d="M899.9 508.9L902.5 509.1L905.1 509.3" stroke-width="5"/>
<path d="M905.1 509.3L907.6 509.6L910.2 509.8" stroke-width="5.1"/>
<path d="M910.2 509.8L912.8 510L915.4 510.2" stroke-width="5.2"/>
<path d="M915.4 510.2L918 510.4L920.6 510.6" stroke-width="5.3"/>
<path d="M920.6 510.6L923.1 510.8L925.7 511" stroke-width="5.4"/>
<path d="M925.7 511L928.3 511.2L930.8 511.4" stroke-width="5.5"/>
<path d="M930.8 511.4L933.4 511.6L935.9 511.7" stroke-width="5.5"/>
<path d="M935.9 511.7L938.5 511.9L941.1 512" stroke-width="5.5"/>
<path d="M941.1 512L943.6 512.2L946.2 512.3" stroke-width="5.5"/>
<path d="M946.2 512.3L948.7 512.4L951.3 512.6" stroke-width="5.5"/>
<path d="M951.3 512.6L953.8 512.7L956.4 512.8" stroke-width="5.5"/>
<path d="M956.4 512.8L958.9 512.9L961.5 513" stroke-width="5.5"/>
<path d="M961.5 513L964 513.1L966.6 513.1" stroke-width="5.5"/>
<path d="M966.6 513.1L969.1 513.2L971.7 513.3" stroke-width="5.5"/>
<path d="M971.7 513.3L974.3 513.4L976.8 513.5" stroke-width="5.5"/>
<path d="M976.8 513.5L979.4 513.6L982 513.7" stroke-width="5.5"/>
<path d="M982 513.7L984.6 513.8L987.2 513.8" stroke-width="5.5"/>
<path d="M987.2 513.8L989.7 513.8L992.3 513.8" stroke-width="5.5"/>
<path d="M992.3 513.8L994.9 513.7L997.4 513.5" stroke-width="5.5"/>
<path d="M997.4 513.5L1000 513.3L1002.5 513" stroke-width="5.5"/>
<path d="M1002.5 513L1005 512.7L1007.5 512.4" stroke-width="5.5"/>
<path d="M1007.5 512.4L1010 512.1L1012.5 511.7" stroke-width="5.5"/>
<path d="M1012.5 511.7L1015 511.4L1017.5 511" stroke-width="5.5"/>
<path d="M1017.5 511L1020 510.7L1022.5 510.3" stroke-width="5.5"/>
<path d="M1022.5 510.3L1025 509.9L1027.5 509.5" stroke-width="5.5"/>
<path d="M1027.5 509.5L1029.9 509.1L1032.4 508.6" stroke-width="5.5"/>
<path d="M1032.4 508.6L1034.9 508.2L1037.4 507.8" stroke-width="5.5"/>
<path d="M1037.4 507.8L1039.9 507.4L1042.4 506.9" stroke-width="5.5"/>
<path d="M1042.4 506.9L1044.9 506.5L1047.4 506.1" stroke-width="5.5"/>
<path d="M1047.4 506.1L1049.9 505.6L1052.3 505.2" stroke-width="5.5"/>
<path d="M1052.3 505.2L1054.8 504.8L1057.3 504.3" stroke-width="5.5"/>
<path d="M1057.3 504.3L1059.8 503.9L1062.3 503.5" stroke-width="5.5"/>
<path d="M1062.3 503.5L1064.8 503.1L1067.3 502.7" stroke-width="5.5"/>
<path d="M1067.3 502.7L1069.9 502.2L1072.4 501.8" stroke-width="5.5"/>
<path d="M1072.4 501.8L1074.9 501.4L1077.4 501" stroke-width="5.5"/>
<path d="M1077.4 501L1080 500.6L1082.5 500.2" stroke-width="5.5"/>
<path d="M1082.5 500.2L1085 499.7L1087.5 499.3" stroke-width="5.5"/>
<path d="M1087.5 499.3L1090 498.9L1092.5 498.4" stroke-width="5.5"/>
<path d="M1092.5 498.4L1095.1 498L1097.6 497.5" stroke-width="5.5"/>
<path d="M1097.6 497.5L1100.1 497L1102.6 496.6" stroke-width="5.5"/>
<path d="M1102.6 496.6L1105.1 496.1L1107.6 495.6" stroke-width="5.5"/>
<path d="M1107.6 495.6L1110.1 495L1112.6 494.5" stroke-width="5.5"/>
<path d="M1112.6 494.5L1115.1 493.9L1117.6 493.4" stroke-width="5.5"/>
<path d="M1117.6 493.4L1120.2 492.8L1122.7 492.3" stroke-width="5.5"/>
<path d="M1122.7 492.3L1125.2 491.7L1127.7 491.1" stroke-width="5.5"/>
<path d="M1127.7 491.1L1130.2 490.5L1132.7 489.9" stroke-width="5.5"/>
<path d="M1132.7 489.9L1135.2 489.3L1137.7 488.7" stroke-width="5.5"/>
<path d="M1137.7 488.7L1140.2 488L1142.7 487.4" stroke-width="5.5"/>
<path d="M1142.7 487.4L1145.2 486.7L1147.7 486" stroke-width="5.5"/>
<path d="M1147.7 486L1150.2 485.3L1152.6 484.5" stroke-width="5.5"/>
<path d="M1152.6 484.5L1155.1 483.8L1157.6 483" stroke-width="5.5"/>
<path d="M1157.6 483L1160 482.2L1162.4 481.4" stroke-width="5.5"/>
<path d="M1162.4 481.4L1164.8 480.6L1167.1 479.8" stroke-width="5.5"/>
<path d="M1167.1 479.8L1169.5 478.9L1171.9 478.1" stroke-width="5.5"/>
<path d="M1171.9 478.1L1174.3 477.2L1176.6 476.3" stroke-width="5.5"/>
<path d="M1176.6 476.3L1179 475.5L1181.3 474.6" stroke-width="5.5"/>
<path d="M1181.3 474.6L1183.7 473.7L1186 472.8" stroke-width="5.5"/>
<path d="M1186 472.8L1188.4 471.9L1190.8 471" stroke-width="5.5"/>
<path d="M1190.8 471L1193.1 470.1L1195.5 469.2" stroke-width="5.5"/>
<path d="M1195.5 469.2L1197.8 468.2L1200.1 467.3" stroke-width="5.5"/>
<path d="M1200.1 467.3L1202.5 466.4L1204.8 465.5" stroke-width="5.5"/>
<path d="M1204.8 465.5L1207.2 464.5L1209.5 463.6" stroke-width="5.5"/>
<path d="M1209.5 463.6L1211.9 462.7L1214.2 461.8" stroke-width="5.5"/>
<path d="M1214.2 461.8L1216.6 460.8L1218.9 459.9" stroke-width="5.5"/>
<path d="M1218.9 459.9L1221.2 459L1223.6 458" stroke-width="5.5"/>
<path d="M1223.6 458L1225.9 457.1L1228.3 456.2" stroke-width="5.5"/>
<path d="M1228.3 456.2L1230.6 455.3L1233 454.4" stroke-width="5.5"/>
<path d="M1233 454.4L1235.3 453.5L1237.7 452.6" stroke-width="5.5"/>
<path d="M1237.7 452.6L1240.1 451.7L1242.5 450.8" stroke-width="5.5"/>
<path d="M1242.5 450.8L1244.9 449.9L1247.3 449" stroke-width="5.5"/>
<path d="M1247.3 449L1249.7 448.1L1252.1 447.2" stroke-width="5.5"/>
<path d="M1252.1 447.2L1254.5 446.3L1256.9 445.4" stroke-width="5.5"/>
<path d="M1256.9 445.4L1259.3 444.5L1261.7 443.6" stroke-width="5.5"/>
<path d="M1261.7 443.6L1264.1 442.8L1266.5 441.9" stroke-width="5.5"/>
<path d="M1266.5 441.9L1268.9 441L1271.3 440.1" stroke-width="5.5"/>
<path d="M1271.3 440.1L1273.7 439.2L1276.1 438.3" stroke-width="5.5"/>
<path d="M1276.1 438.3L1278.5 437.4L1280.9 436.5" stroke-width="5.5"/>
<path d="M1280.9 436.5L1283.3 435.6L1285.7 434.7" stroke-width="5.5"/>
<path d="M1285.7 434.7L1288.1 433.8L1290.4 432.9" stroke-width="5.5"/>
<path d="M1290.4 432.9L1292.8 432L1295.2 431" stroke-width="5.5"/>
<path d="M1295.2 431L1297.6 430.1L1300 429.2" stroke-width="5.5"/>
<path d="M1300 429.2L1302.5 428.2L1305.1 427.1" stroke-width="5.4"/>
<path d="M1305.1 427.1L1307.6 426L1310.1 424.8" stroke-width="5.2"/>
<path d="M1310.1 424.8L1312.5 423.7L1315 422.5" stroke-width="5.1"/>
<path d="M1315 422.5L1317.6 421.3L1320.2 420" stroke-width="5"/>
<path d="M1320.2 420L1322.8 418.6L1325.2 417.1" stroke-width="5"/>
<path d="M1325.2 417.1L1327.7 415.1L1330 412.8" stroke-width="4.8"/>
<path d="M1330 412.8L1332.3 410.6" stroke-width="4.6"/>
<path d="M1301 412L1303.3 410.6L1305.6 409.2" stroke-width="8.3"/>
<path d="M1305.6 409.2L1307.9 407.7L1310.2 406.3" stroke-width="8"/>
<path d="M1310.2 406.3L1312.6 405L1315 403.8" stroke-width="7.7"/>
<path d="M1315 403.8L1317.7 402.6L1320.4 401.6" stroke-width="7.1"/>
<path d="M1320.4 401.6L1323.2 400.8L1326 400.3" stroke-width="6.4"/>
<path d="M1326 400.3L1328.9 400.2L1331.7 400.5" stroke-width="5.8"/>
<path d="M1331.7 400.5L1334.5 401.3L1337.3 402.5" stroke-width="5.6"/>
<path d="M1337.3 402.5L1339.9 404L1342 406" stroke-width="5.5"/>
<path d="M1342 406L1343.6 408.7L1344.8 411.8" stroke-width="5.5"/>
<path d="M1344.8 411.8L1345.5 415L1345.8 417.5" stroke-width="5.5"/>
<path d="M1345.8 417.5L1345.8 420L1345.6 422.5" stroke-width="5.5"/>
<path d="M1345.6 422.5L1345.5 425L1345.4 427.5" stroke-width="5.5"/>
<path d="M1345.4 427.5L1345.3 430L1345.1 432.5" stroke-width="5.2"/>
<path d="M1345.1 432.5L1345 435" stroke-width="5.1"/>
</g>
<g stroke="#0070ff">
<path d="M758.4 421.1L761 420.8L763.7 420.6" stroke-width="6"/>
<path d="M763.7 420.6L766.3 420.3L768.9 420" stroke-width="6"/>
<path d="M768.9 420L771.6 419.8L774.2 419.5" stroke-width="6"/>
<path d="M774.2 419.5L776.9 419.3L779.5 419.1" stroke-width="6"/>
<path d="M779.5 419.1L782 418.9L784.5 418.8" stroke-width="6.1"/>
<path d="M784.5 418.8L787 418.7L789.5 418.5" stroke-width="6.2"/>
<path d="M789.5 418.5L792.1 418.4L794.6 418.3" stroke-width="6.3"/>
<path d="M794.6 418.3L797.1 418.2L799.6 418.1" stroke-width="6.4"/>
<path d="M782.5 409L785.1 409.8L787.7 410.5" stroke-width="7"/>
<path d="M787.7 410.5L790.3 411.2L792.9 412" stroke-width="7"/>
<path d="M792.9 412L795.3 413L797.6 414.1" stroke-width="7"/>
<path d="M797.6 414.1L800.6 417L801.6 420.1" stroke-width="7"/>
<path d="M801.6 420.1L799.8 421.7L796.7 422.9" stroke-width="6.8"/>
<path d="M796.7 422.9L793.6 424.1" stroke-width="6.6"/>
<path d="M770.5 449.3L771.9 452.4L773.5 455.5" stroke-width="6.2"/>
<path d="M773.5 455.5L775 458.3L776.5 459.8" stroke-width="7.2"/>
<path d="M776.5 459.8L777.7 458.3L778.9 455.7" stroke-width="7.3"/>
<path d="M778.9 455.7L780 453L781.2 450.4" stroke-width="6.1"/>
<path d="M781.2 450.4L782.3 447.9L783.5 445.3" stroke-width="5.3"/>
<path d="M874.5 199.3L877.1 199.2L879.8 199.2" stroke-width="5.5"/>
<path d="M879.8 199.2L882.4 199.1L885 199" stroke-width="5.5"/>
<path d="M885 199L887.6 199L890.3 199" stroke-width="5.5"/>
<path d="M890.3 199L892.9 199L895.6 199.1" stroke-width="5.5"/>
<path d="M895.6 199.1L898.3 199.2L901 199.4" stroke-width="5.3"/>
<path d="M901 199.4L903.6 199.6L906.3 199.8" stroke-width="5.2"/>
<path d="M906.3 199.8L909 200" stroke-width="5"/>
<path d="M897 193L900.1 192.3L903.1 191.7" stroke-width="7.7"/>
<path d="M903.1 191.7L906 191.8L908.6 193.1" stroke-width="7.8"/>
<path d="M908.6 193.1L911 195.1L913 197.4" stroke-width="7.3"/>
<path d="M913 197.4L913.3 199.1L913 201" stroke-width="6.2"/>
<path d="M900 196L903 196.2L906 196.3" stroke-width="5"/>
<path d="M906 196.3L909 196.5" stroke-width="5"/>
<path d="M874.6 167.3L875.6 169.7L876.5 172.2" stroke-width="6.5"/>
<path d="M876.5 172.2L877.5 174.6L878.5 177" stroke-width="6.5"/>
<path d="M878.5 177L879.6 179.9L880.8 182.8" stroke-width="7"/>
<path d="M880.8 182.8L881.9 184L883 182.4" stroke-width="7.7"/>
<path d="M883 182.4L884 179.2L885 176" stroke-width="7"/>
<path d="M885 176L885.8 173.6L886.7 171.2" stroke-width="6.4"/>
<path d="M886.7 171.2L887.5 168.8L888.3 166.4" stroke-width="6.1"/>
<path d="M1060.4 429L1063.2 428.7L1066 428.4" stroke-width="5.5"/>
<path d="M1066 428.4L1068.8 428.1L1071.6 427.8" stroke-width="5.5"/>
<path d="M1071.6 427.8L1074.4 427.5L1077.2 427.3" stroke-width="5.5"/>
<path d="M1077.2 427.3L1080 427L1082.7 426.8" stroke-width="5.5"/>
<path d="M1082.7 426.8L1085.4 426.5L1088.1 426.3" stroke-width="5.6"/>
<path d="M1088.1 426.3L1090.9 426.1L1093.6 425.9" stroke-width="5.8"/>
<path d="M1093.6 425.9L1096.3 425.7L1099 425.5" stroke-width="5.9"/>
<path d="M1090.4 419.4L1093.7 419.8L1097.1 420.1" stroke-width="7"/>
<path d="M1097.1 420.1L1100 421L1101.6 422.9" stroke-width="7"/>
<path d="M1101.6 422.9L1101.9 425.1L1100.4 426.8" stroke-width="6.9"/>
<path d="M1100.4 426.8L1098.2 428.4L1096 430" stroke-width="6.3"/>
<path d="M1072 443L1073.3 446L1074.6 449" stroke-width="6.5"/>
<path d="M1074.6 449L1076 452L1077.4 454.8" stroke-width="7.6"/>
<path d="M1077.4 454.8L1079 456.5L1081.1 454.9" stroke-width="8.5"/>
<path d="M1081.1 454.9L1083 452L1084.5 449.1" stroke-width="7.5"/>
<path d="M1084.5 449.1L1085.7 446L1087 443" stroke-width="6.2"/>
<path d="M1318.5 347.5L1321.3 347.3L1324 347.3" stroke-width="5.2"/>
<path d="M1324 347.3L1326.7 347.4L1329.5 347.5" stroke-width="4.9"/>
<path d="M1329.5 347.5L1332.2 347.6L1334.9 347.7" stroke-width="4.5"/>
<path d="M1334.9 347.7L1337.6 347.8L1340.4 348" stroke-width="4.2"/>
<path d="M1340.4 348L1343.1 348.2L1345.8 348.4" stroke-width="3.9"/>
<path d="M1345.8 348.4L1348.5 348.7L1351.2 349" stroke-width="3.6"/>
<path d="M1351.2 349L1354 349.7L1356.6 350.8" stroke-width="3.5"/>
<path d="M1356.6 350.8L1359.3 351.9L1362.1 352.5" stroke-width="3.5"/>
<path d="M1362.1 352.5L1364.6 352.7L1367.1 352.7" stroke-width="3.5"/>
<path d="M1367.1 352.7L1369.6 352.7L1372.2 352.7" stroke-width="3.5"/>
<path d="M1372.2 352.7L1374.7 352.6L1377.2 352.5" stroke-width="3.5"/>
<path d="M1377.2 352.5L1379.8 352.4L1382.3 352.3" stroke-width="3.5"/>
<path d="M1382.3 352.3L1384.8 352.2L1387.4 352.1" stroke-width="3.5"/>
<path d="M1387.4 352.1L1389.9 352" stroke-width="3.5"/>
<path d="M1398.9 353.3L1401.5 354.1L1404.1 355.1" stroke-width="3.5"/>
<path d="M1404.1 355.1L1406.8 356L1409.4 357" stroke-width="3.5"/>
<path d="M1409.4 357L1412 357.9L1414.6 358.8" stroke-width="3.5"/>
<path d="M1414.6 358.8L1417.3 359.5L1419.9 360" stroke-width="3.5"/>
<path d="M1419.9 360L1422.6 360.4L1425.2 360.6" stroke-width="3.5"/>
<path d="M1425.2 360.6L1427.9 360.6L1430.5 360.6" stroke-width="3.4"/>
<path d="M1430.5 360.6L1433.2 360.5L1435.9 360.3" stroke-width="3.3"/>
<path d="M1435.9 360.3L1438.6 360.1L1441.3 359.8" stroke-width="3.2"/>
<path d="M1441.3 359.8L1444 359.5L1446.6 359.2" stroke-width="3.2"/>
<path d="M1446.6 359.2L1449.3 358.9L1452 358.7" stroke-width="3.1"/>
<path d="M1452 358.7L1454.7 358.5" stroke-width="3"/>
<path d="M1486.8 356.8L1489.5 357.1L1492.1 357.5" stroke-width="3.4"/>
<path d="M1492.1 357.5L1494.8 357.9L1497.5 358.2" stroke-width="3.3"/>
<path d="M1497.5 358.2L1500.2 358.6L1502.8 358.9" stroke-width="3.2"/>
<path d="M1502.8 358.9L1505.5 359.1L1508.2 359.2" stroke-width="3.1"/>
<path d="M1508.2 359.2L1510.8 359.2L1513.4 359.2" stroke-width="3"/>
<path d="M1513.4 359.2L1516 359.1L1518.6 359" stroke-width="3"/>
<path d="M1518.6 359L1521.1 358.9L1523.7 358.8" stroke-width="3"/>
<path d="M1523.7 358.8L1526.3 358.6L1528.9 358.4" stroke-width="3"/>
<path d="M1528.9 358.4L1531.5 358.3L1534.1 358.1" stroke-width="3"/>
<path d="M1534.1 358.1L1536.7 358" stroke-width="3"/>
<path d="M1521.1 346L1523.9 346.8L1526.7 347.6" stroke-width="8.3"/>
<path d="M1526.7 347.6L1529.5 348.4L1532.2 349.4" stroke-width="7.9"/>
<path d="M1532.2 349.4L1534.8 350.5L1537.1 351.8" stroke-width="7.5"/>
<path d="M1537.1 351.8L1539.3 353.3L1541.4 355.1" stroke-width="7"/>
<path d="M1541.4 355.1L1543.1 357L1544.6 360" stroke-width="6.5"/>
<path d="M1544.6 360L1544.9 363.3L1544.2 366" stroke-width="6"/>
<path d="M1544.2 366L1543 368.6L1541.2 370.6" stroke-width="5.3"/>
<path d="M1541.2 370.6L1539 371.9L1536.5 372.8" stroke-width="4.9"/>
<path d="M1536.5 372.8L1533.8 373.5L1531.2 374.3" stroke-width="4.6"/>
<path d="M1426.5 388L1427.2 390.7L1427.9 393.4" stroke-width="7.1"/>
<path d="M1427.9 393.4L1428.6 396L1429.4 398.7" stroke-width="7.2"/>
<path d="M1429.4 398.7L1430.2 401.4L1431 404" stroke-width="7.4"/>
<path d="M1431 404L1432.1 407.6L1433.4 411.1" stroke-width="8"/>
<path d="M1433.4 411.1L1434.8 412.5L1436.1 411.2" stroke-width="8.7"/>
<path d="M1436.1 411.2L1437.4 408.5L1438.8 405.1" stroke-width="8.2"/>
<path d="M1438.8 405.1L1440 402L1441.1 399.4" stroke-width="7.6"/>
<path d="M1441.1 399.4L1442.2 396.7L1443.3 394.1" stroke-width="7.2"/>
<path d="M1443.3 394.1L1444.3 391.5L1445.4 388.8" stroke-width="6.9"/>
<path d="M1445.4 388.8L1446.4 386.1L1447.5 383.5" stroke-width="6.6"/>
</g>
</g>
</svg>
</body></html>
